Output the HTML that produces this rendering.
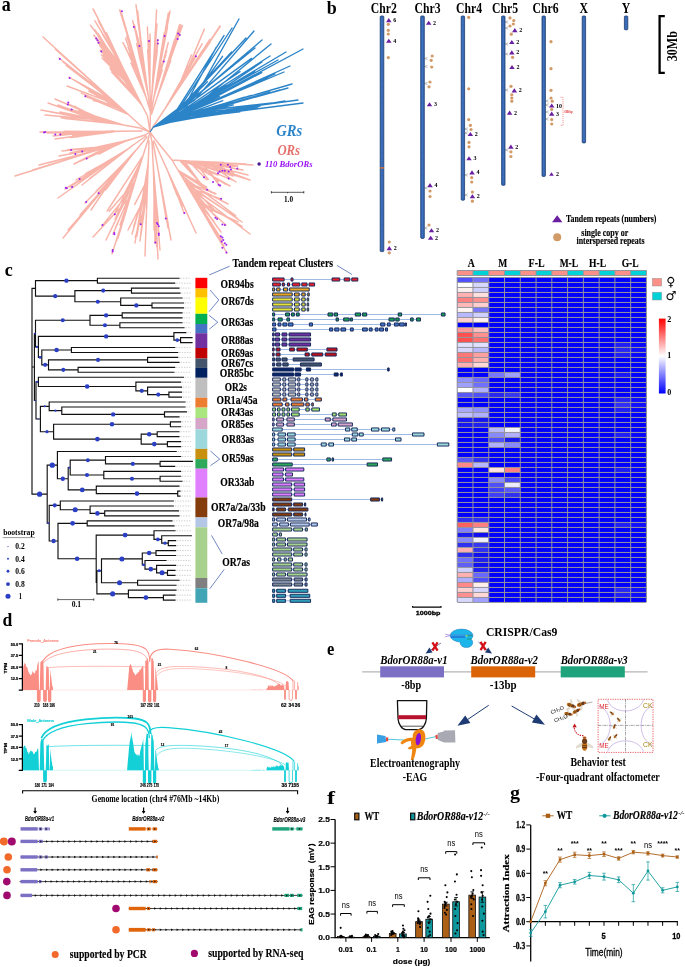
<!DOCTYPE html>
<html><head><meta charset="utf-8"><title>Figure</title>
<style>
html,body{margin:0;padding:0;background:#fff}
svg{display:block;will-change:transform}
text{font-family:'Liberation Serif','DejaVu Serif',serif;font-weight:700}
text.s{font-family:'Liberation Sans','DejaVu Sans',sans-serif}
text.n{font-weight:400}
</style></head><body>
<svg width="685" height="967" viewBox="0 0 685 967">
<rect width="685" height="967" fill="#fff"/>
<g id="panel_a">
<path d="M150 132L141 126M113.96 101.44L43 37M106.86 94.99L63.77 56.62M101.1 89.77L55.35 49.14M112.92 100.5L59 58M112.57 100.18L72.04 69.09M128.25 114.42L82.37 77.37M126.63 112.95L69 77M128.02 114.21L89.84 91.31M118.76 105.8L88.92 91.35M118.05 105.16L67 86M124.71 111.2L81.28 93.12M121.29 108.1L86.61 97.1M123.19 109.83L85 96M128.13 114.31L93 99.47M120.32 107.22L93.32 100.64M104.18 92.56L63 62M119.48 106.46L66.14 65.52M110.62 98.41L68.78 67.18M115.93 103.23L74 80M116.08 103.37L91.24 92.58M117.42 104.59L89.01 89.69M141 126L43 37M150 132L147.5 116M123.7 69.27L93.3 9.2M122.22 66.36L106.44 32.77M128.04 77.79L107.74 38.04M127.19 76.13L98.21 20.56M125.24 72.29L90.5 25.2M128.12 77.95L99.49 41.44M138.07 97.48L98.19 36.36M123.71 69.29L99.81 38.47M121.47 64.9L94.9 20.8M125.62 73.05L106.77 41.39M124.94 71.71L102.71 34.56M132.76 87.07L105.1 37.71M131.39 84.38L93.8 35M137.41 96.19L96.67 39.44M129.69 81.03L99.83 45.85M138.75 98.83L100.39 44.35M137.09 95.56L95 30M134.92 91.31L97.8 33.23M138.04 97.42L106.65 49.57M133.85 89.21L100.73 41.4M138.59 98.51L98 42M140.92 103.09L106.3 55.72M139.79 100.86L110.54 62.49M138.75 98.82L102.29 49.87M135.41 92.26L101.4 54.7M141.98 105.17L112.07 69.29M129.52 80.7L104.05 59.76M134.67 90.81L109.93 65.87M137.95 97.24L100.3 50M137.13 95.64L104.19 54.23M135.86 93.16L103.46 55.26M137.12 95.63L109.11 62.85M136.92 95.23L96.5 38M125.71 73.22L100.92 42.92M128.34 78.38L109.2 58.73M134.86 91.18L108.23 57.02M134.26 90.01L102 58M141.09 103.42L110.07 67.97M141.4 104.02L111.68 72.11M138.38 98.09L110.47 69.26M147.5 116L93 9M150 132L150.5 110M141.53 81.99L119.6 9.9M137.79 69.5L127.25 33.35M136.59 65.47L126.84 36.47M134.01 56.84L121.5 13M135.42 61.58L123.07 18.21M138.64 72.34L129.16 38.91M139.63 75.64L122.9 42.7M146.06 97.14L131.03 62.99M142.01 83.62L124.7 45.64M142.72 85.97L125.5 38.3M146.34 98.07L128.11 47.19M146.75 99.46L130.11 53.55M141.97 83.47L124 22M143.02 86.99L126.68 30.92M138.59 72.18L126.32 30.85M150.5 112L120 10M145.57 75.59L136 4.8M143.11 57.46L136.66 10.31M142.16 50.49L137.59 10.74M145.59 75.74L137 13M145.81 77.39L137.48 18.15M144.43 67.19L139.84 37.08M144.22 65.63L132.7 20.8M147.96 93.27L136.67 43.59M147.78 91.91L135.78 33.24M148.36 96.21L138.6 52.6M146.17 80.08L139.54 57.45M146.69 83.91L140.62 60.24M147.4 89.11L134.5 25M145.81 77.4L139.2 49.14M143.7 61.82L135.96 30.44M146.23 80.48L140 46M147.71 91.43L141.07 52.93M147.62 90.72L143.12 62.66M150.5 112L136 5M148.95 64.82L147.4 27.4M150.08 92.5L147.62 49.39M149.85 86.79L150 34M149.84 86.65L150.25 37.61M150.06 91.94L148.5 50M149.88 87.59L149.48 59.76M149.93 88.7L149 41M149.94 88.93L149.86 53.9M150.8 110L147.4 27M152.53 82.73L156.6 9.9M152.64 80.69L155.72 36.55M153.24 70L155.37 30.72M152.72 79.31L157.7 39.4M152.14 89.71L157.31 49.93M152.34 86.09L157.05 52.92M152.62 81.11L157.8 43.5M152.64 80.69L156.69 54.78M151.76 96.36L155.97 54.33M153.1 72.53L157 24M152.19 88.66L155.41 39.93M152.07 90.92L155.65 49.74M151 110L156.6 10M155.52 88.81L170 11.4M156.28 84.71L168.15 21.38M154.86 92.36L167.51 26.96M160.05 64.48L168.3 13M160.32 63.01L167.14 19.2M160.31 63.06L165.9 26.94M154.98 91.69L163.8 35M157.16 80L162 47.9M156.77 82.07L161.55 49.05M154.59 93.79L168.2 42.7M157.33 79.07L165.9 55.05M158.17 74.57L166.78 51.04M153.95 97.24L163.4 62M156.53 83.34L162.35 64.66M154.12 96.33L162.2 69.89M157.66 77.29L166 26M160.23 63.49L164.22 32.92M157.62 77.51L161.94 49.06M151.2 112L170 11M167.22 66.71L179.6 24.5M164.87 73.83L172.28 47.56M157.59 95.88L174.74 39.28M160.73 86.37L182.4 25.8M156.37 99.57L174.49 47.69M165.31 72.48L178.31 35.48M159.93 88.77L178 33.5M157.31 96.73L173.8 46.03M158.67 92.61L169.98 57.2M166.03 70.32L177.4 39.4M163.21 78.85L173.86 49.68M157.08 97.43L170.73 60.75M151.6 114L181 25M150 132L152.9 127M181.29 84.27L204.3 29.1M177.05 90.65L191.4 54.94M168.67 103.26L220.3 26.3M184.73 79.08L210.31 41.73M165.08 108.67L202.1 43.8M174.62 94.31L187.95 66.51M175.48 93.02L209.8 39.4M170.3 100.81L202.82 49.95M172.65 97.27L196 56.5M172.26 97.86L184.41 76.64M152.9 127L220 26M150 132L140 128M109.95 122.54L55 99M102.99 121.27L74.4 106.21M103.63 121.39L68.73 104.1M96.35 120.06L48 103M114.8 123.42L72.85 110.28M116.93 123.81L74.28 110.6M117.94 123.99L41 110M120.32 124.42L62.62 114.23M119.59 124.29L51.09 112.16M91.82 119.24L45 115M115.96 123.63L61.08 117.69M120.01 124.36L64.83 118.44M121.1 124.56L60 112M106.02 121.82L78.65 116.47M99.57 120.65L68.77 113.68M99.82 120.69L58 105M120.1 124.38L78.55 110.8M116.25 123.68L62.51 106.88M115.72 123.59L66 108M113.04 123.1L72.42 109.84M123.43 124.99L78.81 110.94M113.1 123.11L71.6 109.5M122.69 124.85L85.13 113.15M103.17 121.3L80.08 111.04M140 128L41 110M96.51 131.45L40 132M100.96 131.4L44.81 131.89M101.87 131.39L64.11 131.11M99.6 131.42L53 136M107.21 131.34L72.55 135.1M106.51 131.35L79.68 134.67M110.34 131.31L55 139M117.84 131.24L70.36 137.58M101.81 131.39L76.55 137.01M120.45 131.21L60 134M113.01 131.28L84.51 133.43M114.11 131.27L82.69 133.31M121.25 131.2L47 133M104.8 131.36L74.48 133.09M99.47 131.42L67.99 132.93M142 131L40 132M150 132L145 135M73.36 157.59L15 176M96.24 150.38L32.68 170.03M96.31 150.36L39 165M100.69 148.98L48.57 162.89M104.07 147.91L59 156M116.44 144.01L73.09 152.55M128.9 140.08L65 160M105.78 147.37L71.49 157.46M107.51 146.82L74 164M117.57 143.65L79.99 161.41M110.98 145.73L62 151M109.42 146.22L67.58 149.63M128.29 140.27L70 153M112.08 145.38L79.08 151.26M126.03 140.98L82 151.4M134.84 138.2L100.54 147.18M126.39 140.87L86.7 158.4M121.01 142.56L98.96 154.16M145 135L15 176M125.54 150.42L58 198M128.64 148.23L79.48 182.39M121.75 153.09L65 189M107.37 163.21L68.76 186.55M121.48 153.28L70 187M119.78 154.47L85.26 176.8M132.49 145.52L82 185M132.97 145.18L89.56 178.67M124.88 150.88L76 180M118 155.73L85.65 173.66M146 136L58 198M114.01 176.67L63 238M106.76 185.38L72.87 225.7M99.67 193.91L68 230M123.47 165.29L85.71 209.12M128.92 158.74L85 203M133.33 153.44L96.15 191.21M111.9 179.21L91 210M134.6 151.91L105.57 189.97M125.87 162.41L98 193M137.72 148.16L109.59 178.6M119.38 170.21L80 215M109.77 181.76L84.38 211.09M147 137L63 238M150 132L148 140M129.84 197.5L93 237M143.16 155.31L107.19 211.01M133.12 187.1L102 226M134.75 181.97L109.2 211.3M138.98 168.55L112 254M129.28 199.29L116.6 240.77M132.93 187.71L113 234M131.71 191.6L115.35 227.75M140.08 165.08L114 215M141.79 159.66L124.66 193.29M136.74 175.67L118 238M132.17 190.12L123.24 221.15M135.94 178.18L120 225M140.63 163.35L126.71 206.34M135.65 179.11L106 240M139.9 165.66L115.1 219.05M148 140L112 254M147.18 193.31L128 230M147.68 179.07L134.62 204.55M147.6 181.26L132 234M147.5 184.07L133.73 226.34M148.23 163.12L140 241M147.33 188.98L140.89 235.36M147.44 185.78L145 256M147.41 186.65L145.91 229.44M147.64 180.15L141 224M148.31 160.96L143.19 203.22M148.21 163.58L135 243M147.01 198.18L135.15 237.68M148.16 165.16L137 236M147.8 175.58L137.87 227.53M149 141L145 256M150 132L152 142M153.51 171.5L155 243M154.37 188.24L154.67 221.72M155.71 214.37L158 259M154.08 182.6L156.64 246.42M153.09 163.22L157 224M152.91 159.69L155.6 204.96M153.14 164.17L159 235M153.28 166.9L157.36 214.38M153.23 166.05L156 243M153.25 166.34L155.71 223.04M153.71 175.36L160 250M153.81 177.24L158.37 222.11M154.58 192.32L154 230M154.17 184.33L153.88 224.33M152 142L158 259M157.41 166L166 218M159.82 179.13L163.61 203.34M157.55 166.78L171 240M159.19 175.72L168.22 223.92M160.32 181.88L168 228M159.99 180.05L165.42 209.66M153 142L171 240M172.01 180.46L184 213M167.87 171.39L176.98 195.32M162.78 160.24L196 233M160.86 156.02L186.24 211.28M171.95 180.33L190 220M170.95 178.13L182.79 205.72M154 141L196 233M150 132L155 139L172 160M197.89 203.78L227 253M197.86 203.72L217.13 236.62M187.39 186.02L210.67 225M186.34 184.24L222 240M185.72 183.21L218.55 235.59M198.73 205.2L217.4 234.24M193.06 195.62L226 225M182.67 178.04L213.83 209.25M178.58 171.12L211.94 208.13M187.17 185.66L217 218M187.74 186.62L210.85 211.37M184.39 180.96L211.73 211.65M188.21 187.42L250 234M194.72 198.41L242.16 226.46M198.06 204.06L238.35 221.81M185.38 182.62L242 222M180.76 174.8L235.56 215.65M186.56 184.63L237.57 218.43M184.73 181.52L228 204M184.75 181.56L216.04 193.75M179.34 172.41L214.71 193.87M199.36 206.26L224 246M195.02 198.92L218.44 235.46M187.14 185.6L209.31 221.8M184.66 181.41L221 232M194.88 198.69L213.89 221.2M183.1 178.77L209 214.69M188.22 187.42L221 199M178.2 170.48L206.66 187.13M179.2 172.17L211.65 192.62M172 160L227 253M204.31 161.99L253 165M197.93 161.6L244.74 164.16M216.99 162.78L248.75 164.73M193.54 161.33L248 175M192.27 161.25L228.99 170.8M207.71 162.2L233.39 172.39M188.79 161.04L250 180M199.88 161.72L245.98 178.39M206.31 162.12L234.69 175.6M205.99 162.1L236 182M185.51 160.83L233.2 180.43M182.01 160.62L217.89 175.03M185.44 160.83L230 186M199.8 161.72L218.27 181.44M188.96 161.05L225.77 184.51M205.98 162.1L238 166M208.61 162.26L235.26 166.44M189.79 161.1L223.9 164.21M194.43 161.38L243 170M212.51 162.5L238.92 169.82M195.19 161.43L222.25 167.34M191.15 161.18L233 176M196.72 161.53L220.76 172.58M188.2 161L220.09 172.07M195.36 161.44L246 164M182.45 160.64L223.87 162.45M202.29 161.87L230.52 163.89M200.9 161.78L220 186M188.72 161.03L206.79 179.69M194.27 161.37L208.3 179.4M179.72 160.48L207 190M181.91 160.61L203.64 187.8M184.09 160.75L200.9 183.83M172 160L253 165" fill="none" stroke="#F8B4A9" stroke-width="1.45" stroke-linecap="round"/>
<path d="M153.5 127L196.65 94.56L239 19M153.5 127L176.68 110.17L224.11 35.45M153.5 127L179.7 107.76L232 28M153.5 127L185.42 104.8L216.35 47.16M153.5 127L194.61 100.15L254 31M153.5 127L173.81 114.34L231.58 52M153.5 127L176.7 112.03L246 38M153.5 127L186.88 105.99L222.55 56.32M153.5 127L173.94 114.85L262 40M153.5 127L171.69 117.09L207.41 81.84M153.5 127L203.85 98.93L271 44M153.5 127L167.07 119.64L251.51 58.42M153.5 127L167.73 118.77L255 48M153.5 127L170.26 117.88L223.22 73.4M153.5 127L184.98 111.98L303 49M153.5 127L196.9 106.98L261.75 72.55M153.5 127L193.53 107.13L286 52M153.5 127L181.55 113.61L227.41 85.08M153.5 127L179.59 113.64L270 56M153.5 127L172.03 117.54L240.04 71.64M153.5 127L171.44 118.37L278 60M153.5 127L178.87 114.86L254.75 71.72M153.5 127L202.52 102.28L262 62M153.5 127L184.1 112.21L225.4 84.81M153.5 127L208.09 103.12L290 66M153.5 127L190.39 111.29L226.49 96.23M153.5 127L203.68 105.68L284 72M153.5 127L168.54 120.39L219.36 96.44M153.5 127L204.35 105.04L275 74M153.5 127L193.98 109.61L241.63 88.92M153.5 127L182.38 114.64L268 78M153.5 127L166.1 121.82L222.83 100.72M153.5 127L191.49 113L292 84M153.5 127L169.15 120.99L251.11 95.38M153.5 127L174.29 119.54L288 88M153.5 127L170.05 120.85L233.35 104.93M153.5 127L165.74 122.57L280 90M153.5 127L173.63 119.24L232.31 102.37M153.5 127L172.87 119.85L270 92M153.5 127L167.28 121.66L244.47 97.14M153.5 127L184.02 118.23L303 103M153.5 127L170.44 121.56L257.87 107.93M153.5 127L196.69 113.9L298 100M153.5 127L197.73 112.11L245.17 108.47M153.5 127L178.6 119.11L285 101M153.5 127L194.43 113.16L244.47 108.34M153.5 127L204.7 110.48L272 103M153.5 127L169.5 121.49L226.02 113.31M153.5 127L164.59 123.38L260 106M153.5 127L177.63 119.05L239.9 111.8M153.5 127L196.11 112.87L250 108M153.5 127L179.45 117.34L215.29 111.52M153.5 127L185.82 116.09L240 110M153.5 127L174.53 119.66L221.83 113.82" fill="none" stroke="#2C84C8" stroke-width="1.35" stroke-linecap="round" stroke-linejoin="round"/>
<path d="M150 132L153.5 127" fill="none" stroke="#2C84C8" stroke-width="1.2"/>
<circle cx="121.9" cy="11.3" r="1" fill="#A020F0" />
<circle cx="96.2" cy="38.4" r="1" fill="#A020F0" />
<circle cx="97.5" cy="40.2" r="1" fill="#A020F0" />
<circle cx="98.5" cy="42.7" r="1" fill="#A020F0" />
<circle cx="101.3" cy="51.5" r="1" fill="#A020F0" />
<circle cx="59.8" cy="59" r="1" fill="#A020F0" />
<circle cx="69.6" cy="77.9" r="1" fill="#A020F0" />
<circle cx="85.4" cy="96.2" r="1" fill="#A020F0" />
<circle cx="68.3" cy="102.5" r="1" fill="#A020F0" />
<circle cx="67.8" cy="104.5" r="1" fill="#A020F0" />
<circle cx="71.6" cy="109.5" r="1" fill="#A020F0" />
<circle cx="133.9" cy="27.1" r="1" fill="#A020F0" />
<circle cx="139.4" cy="46" r="1" fill="#A020F0" />
<circle cx="149" cy="41" r="1" fill="#A020F0" />
<circle cx="157.8" cy="40.2" r="1" fill="#A020F0" />
<circle cx="157.8" cy="43.5" r="1" fill="#A020F0" />
<circle cx="164.6" cy="35.9" r="1" fill="#A020F0" />
<circle cx="163.8" cy="61.6" r="1" fill="#A020F0" />
<circle cx="44" cy="132.4" r="1" fill="#A020F0" />
<circle cx="45.2" cy="131.9" r="1" fill="#A020F0" />
<circle cx="55.3" cy="134.4" r="1" fill="#A020F0" />
<circle cx="60.3" cy="134.4" r="1" fill="#A020F0" />
<circle cx="178.2" cy="33.6" r="1" fill="#A020F0" />
<circle cx="179.8" cy="35.1" r="1" fill="#A020F0" />
<circle cx="177.6" cy="38.9" r="1" fill="#A020F0" />
<circle cx="195.9" cy="56.3" r="1" fill="#A020F0" />
<circle cx="71.1" cy="150.1" r="1" fill="#A020F0" />
<circle cx="75.4" cy="153.9" r="1" fill="#A020F0" />
<circle cx="82.2" cy="151.4" r="1" fill="#A020F0" />
<circle cx="86.7" cy="158.4" r="1" fill="#A020F0" />
<circle cx="79.6" cy="179" r="1" fill="#A020F0" />
<circle cx="65.8" cy="187.8" r="1" fill="#A020F0" />
<circle cx="66.8" cy="188.3" r="1" fill="#A020F0" />
<circle cx="72.1" cy="187.1" r="1" fill="#A020F0" />
<circle cx="98.7" cy="193.3" r="1" fill="#A020F0" />
<circle cx="86.2" cy="202.1" r="1" fill="#A020F0" />
<circle cx="114.8" cy="214.2" r="1" fill="#A020F0" />
<circle cx="102.5" cy="225" r="1" fill="#A020F0" />
<circle cx="114.3" cy="233" r="1" fill="#A020F0" />
<circle cx="114.3" cy="234.3" r="1" fill="#A020F0" />
<circle cx="112.6" cy="249.9" r="1" fill="#A020F0" />
<circle cx="112.6" cy="251.4" r="1" fill="#A020F0" />
<circle cx="140.7" cy="224.2" r="1" fill="#A020F0" />
<circle cx="157" cy="223" r="1" fill="#A020F0" />
<circle cx="157.8" cy="224.2" r="1" fill="#A020F0" />
<circle cx="158.8" cy="226.3" r="1" fill="#A020F0" />
<circle cx="158.8" cy="233.5" r="1" fill="#A020F0" />
<circle cx="158.8" cy="235" r="1" fill="#A020F0" />
<circle cx="155.3" cy="242.6" r="1" fill="#A020F0" />
<circle cx="165.8" cy="218.5" r="1" fill="#A020F0" />
<circle cx="184.4" cy="213" r="1" fill="#A020F0" />
<circle cx="220.8" cy="164.8" r="1" fill="#A020F0" />
<circle cx="227.9" cy="164.8" r="1" fill="#A020F0" />
<circle cx="230.1" cy="167" r="1" fill="#A020F0" />
<circle cx="218" cy="173.2" r="1" fill="#A020F0" />
<circle cx="219.6" cy="171.6" r="1" fill="#A020F0" />
<circle cx="222.4" cy="170.7" r="1" fill="#A020F0" />
<circle cx="224.8" cy="170.7" r="1" fill="#A020F0" />
<circle cx="228.6" cy="171.6" r="1" fill="#A020F0" />
<circle cx="231" cy="169.5" r="1" fill="#A020F0" />
<circle cx="237.3" cy="168.5" r="1" fill="#A020F0" />
<circle cx="204" cy="177.2" r="1" fill="#A020F0" />
<circle cx="213" cy="181.9" r="1" fill="#A020F0" />
<circle cx="218.6" cy="184.7" r="1" fill="#A020F0" />
<circle cx="220.2" cy="185.6" r="1" fill="#A020F0" />
<circle cx="228.6" cy="178.5" r="1" fill="#A020F0" />
<circle cx="207.1" cy="189.7" r="1" fill="#A020F0" />
<circle cx="221.1" cy="198.7" r="1" fill="#A020F0" />
<circle cx="215.5" cy="217.7" r="1" fill="#A020F0" />
<circle cx="217.1" cy="218.9" r="1" fill="#A020F0" />
<circle cx="222.4" cy="224.5" r="1" fill="#A020F0" />
<circle cx="224.8" cy="225.1" r="1" fill="#A020F0" />
<circle cx="220.8" cy="236.3" r="1" fill="#A020F0" />
<circle cx="222.4" cy="237.6" r="1" fill="#A020F0" />
<circle cx="223.3" cy="240" r="1" fill="#A020F0" />
<circle cx="221.7" cy="241.6" r="1" fill="#A020F0" />
<circle cx="224.8" cy="243.2" r="1" fill="#A020F0" />
<circle cx="226.4" cy="244.7" r="1" fill="#A020F0" />
<circle cx="222.4" cy="247.8" r="1" fill="#A020F0" />
<circle cx="226.4" cy="252.5" r="1" fill="#A020F0" />
<text x="1.7" y="10.9" font-size="21.5" textLength="9" lengthAdjust="spacingAndGlyphs">a</text>
<text x="276.3" y="136.4" font-size="16.8" font-style="italic" fill="#2C84C8" textLength="26" lengthAdjust="spacingAndGlyphs">GRs</text>
<text x="277.4" y="155.3" font-size="14.2" font-style="italic" fill="#E4706C" textLength="22.6" lengthAdjust="spacingAndGlyphs">ORs</text>
<circle cx="259.1" cy="164.1" r="1.75" fill="#4A1A90" />
<text x="264.9" y="166.7" font-size="8.8" font-style="italic" fill="#9A10F8" textLength="47.6" lengthAdjust="spacingAndGlyphs">110 BdorORs</text>
<path d="M271.4 191.1V193.5M271.4 192.3H303.8M303.8 191.1V193.5M287.6 192.3V193.3" stroke="#000" stroke-width="0.65" fill="none"/>
<text x="288.5" y="202" font-size="8.8" text-anchor="middle" textLength="9" lengthAdjust="spacingAndGlyphs">1.0</text>
</g>
<g id="panel_b">
<rect x="380.2" y="16" width="3.6" height="235.6" rx="0.9" fill="#3468B4" stroke="#1F3C70" stroke-width="0.8"/>
<line x1="382" y1="18" x2="382" y2="249.6" stroke="#6C9BE0" stroke-width="0.9" stroke-dasharray="0.5 1.3" opacity="0.8"/>
<text x="383.8" y="12.8" font-size="15" text-anchor="middle" textLength="26" lengthAdjust="spacingAndGlyphs">Chr2</text>
<rect x="420.7" y="16" width="3.6" height="222.4" rx="0.9" fill="#3468B4" stroke="#1F3C70" stroke-width="0.8"/>
<line x1="422.5" y1="18" x2="422.5" y2="236.4" stroke="#6C9BE0" stroke-width="0.9" stroke-dasharray="0.5 1.3" opacity="0.8"/>
<text x="427.5" y="12.8" font-size="15" text-anchor="middle" textLength="26" lengthAdjust="spacingAndGlyphs">Chr3</text>
<rect x="461.2" y="16" width="3.4" height="184.2" rx="0.9" fill="#3468B4" stroke="#1F3C70" stroke-width="0.8"/>
<line x1="462.9" y1="18" x2="462.9" y2="198.2" stroke="#6C9BE0" stroke-width="0.9" stroke-dasharray="0.5 1.3" opacity="0.8"/>
<text x="469" y="12.8" font-size="15" text-anchor="middle" textLength="26" lengthAdjust="spacingAndGlyphs">Chr4</text>
<rect x="501.6" y="16" width="3.4" height="169.3" rx="0.9" fill="#3468B4" stroke="#1F3C70" stroke-width="0.8"/>
<line x1="503.3" y1="18" x2="503.3" y2="183.3" stroke="#6C9BE0" stroke-width="0.9" stroke-dasharray="0.5 1.3" opacity="0.8"/>
<text x="505" y="12.8" font-size="15" text-anchor="middle" textLength="26" lengthAdjust="spacingAndGlyphs">Chr5</text>
<rect x="542" y="16" width="3.4" height="160.4" rx="0.9" fill="#3468B4" stroke="#1F3C70" stroke-width="0.8"/>
<line x1="543.7" y1="18" x2="543.7" y2="174.4" stroke="#6C9BE0" stroke-width="0.9" stroke-dasharray="0.5 1.3" opacity="0.8"/>
<text x="545.5" y="12.8" font-size="15" text-anchor="middle" textLength="26" lengthAdjust="spacingAndGlyphs">Chr6</text>
<rect x="582.2" y="16" width="3.4" height="126.9" rx="0.9" fill="#3468B4" stroke="#1F3C70" stroke-width="0.8"/>
<line x1="583.9" y1="18" x2="583.9" y2="140.9" stroke="#6C9BE0" stroke-width="0.9" stroke-dasharray="0.5 1.3" opacity="0.8"/>
<text x="583.7" y="12.8" font-size="15" text-anchor="middle" textLength="8.5" lengthAdjust="spacingAndGlyphs">X</text>
<rect x="624.4" y="16" width="3.4" height="13.8" rx="0.9" fill="#3468B4" stroke="#1F3C70" stroke-width="0.8"/>
<line x1="626.1" y1="18" x2="626.1" y2="27.8" stroke="#6C9BE0" stroke-width="0.9" stroke-dasharray="0.5 1.3" opacity="0.8"/>
<text x="626" y="12.8" font-size="15" text-anchor="middle" textLength="8.5" lengthAdjust="spacingAndGlyphs">Y</text>
<rect x="380" y="167.3" width="4" height="1.2" fill="#E8702A"/>
<path d="M386.04 22.14L391.56 22.14L388.8 18Z" fill="#6A1FA0"/>
<text x="393.2" y="22.1" font-size="6.6" textLength="3" lengthAdjust="spacingAndGlyphs">6</text>
<circle cx="388.3" cy="24.3" r="1.6" fill="#D19A66" />
<circle cx="388.3" cy="30.3" r="1.6" fill="#D19A66" />
<circle cx="388.3" cy="34" r="1.6" fill="#D19A66" />
<path d="M386.04 42.84L391.56 42.84L388.8 38.7Z" fill="#6A1FA0"/>
<text x="393.2" y="42.8" font-size="6.6" textLength="3" lengthAdjust="spacingAndGlyphs">4</text>
<circle cx="388.3" cy="57.6" r="1.6" fill="#D19A66" />
<circle cx="389.3" cy="242" r="1.6" fill="#D19A66" />
<path d="M386.54 250.14L392.06 250.14L389.3 246Z" fill="#6A1FA0"/>
<text x="393.7" y="250.1" font-size="6.6" textLength="3" lengthAdjust="spacingAndGlyphs">2</text>
<circle cx="389.3" cy="252.8" r="1.6" fill="#D19A66" />
<path d="M425.94 24.84L431.46 24.84L428.7 20.7Z" fill="#6A1FA0"/>
<text x="433.1" y="24.8" font-size="6.6" textLength="3" lengthAdjust="spacingAndGlyphs">2</text>
<circle cx="432.2" cy="56" r="1.6" fill="#D19A66" />
<circle cx="431.2" cy="60.3" r="1.6" fill="#D19A66" />
<circle cx="431.7" cy="67" r="1.6" fill="#D19A66" />
<circle cx="430" cy="82" r="1.6" fill="#D19A66" />
<circle cx="429" cy="86.8" r="1.6" fill="#D19A66" />
<path d="M426.74 106.34L432.26 106.34L429.5 102.2Z" fill="#6A1FA0"/>
<text x="433.9" y="106.3" font-size="6.6" textLength="3" lengthAdjust="spacingAndGlyphs">3</text>
<path d="M427.24 187.14L432.76 187.14L430 183Z" fill="#6A1FA0"/>
<text x="434.4" y="187.1" font-size="6.6" textLength="3" lengthAdjust="spacingAndGlyphs">4</text>
<circle cx="430" cy="191" r="1.6" fill="#D19A66" />
<circle cx="430" cy="196.5" r="1.6" fill="#D19A66" />
<circle cx="429" cy="225" r="1.6" fill="#D19A66" />
<path d="M428.74 232.34L434.26 232.34L431.5 228.2Z" fill="#6A1FA0"/>
<text x="435.9" y="232.3" font-size="6.6" textLength="3" lengthAdjust="spacingAndGlyphs">2</text>
<path d="M427.94 239.84L433.46 239.84L430.7 235.7Z" fill="#6A1FA0"/>
<text x="435.1" y="239.8" font-size="6.6" textLength="3" lengthAdjust="spacingAndGlyphs">2</text>
<circle cx="468.7" cy="17.4" r="1.6" fill="#D19A66" />
<circle cx="468.7" cy="88.8" r="1.6" fill="#D19A66" />
<circle cx="468.7" cy="119.6" r="1.6" fill="#D19A66" />
<circle cx="470.4" cy="125.3" r="1.6" fill="#D19A66" />
<circle cx="471" cy="129.5" r="1.6" fill="#D19A66" />
<path d="M467.64 136.04L473.16 136.04L470.4 131.9Z" fill="#6A1FA0"/>
<text x="474.8" y="136" font-size="6.6" textLength="3" lengthAdjust="spacingAndGlyphs">2</text>
<circle cx="469" cy="142.4" r="1.6" fill="#D19A66" />
<circle cx="469" cy="146.8" r="1.6" fill="#D19A66" />
<path d="M466.24 160.34L471.76 160.34L469 156.2Z" fill="#6A1FA0"/>
<text x="473.4" y="160.3" font-size="6.6" textLength="3" lengthAdjust="spacingAndGlyphs">3</text>
<path d="M469.24 174.44L474.76 174.44L472 170.3Z" fill="#6A1FA0"/>
<text x="476.4" y="174.4" font-size="6.6" textLength="3" lengthAdjust="spacingAndGlyphs">4</text>
<circle cx="471.7" cy="177.6" r="1.6" fill="#D19A66" />
<circle cx="471.7" cy="182" r="1.6" fill="#D19A66" />
<circle cx="472.4" cy="192" r="1.6" fill="#D19A66" />
<path d="M469.64 198.34L475.16 198.34L472.4 194.2Z" fill="#6A1FA0"/>
<text x="476.8" y="198.3" font-size="6.6" textLength="3" lengthAdjust="spacingAndGlyphs">2</text>
<circle cx="472.4" cy="201.2" r="1.6" fill="#D19A66" />
<circle cx="510" cy="17.9" r="1.6" fill="#D19A66" />
<circle cx="513.8" cy="20.6" r="1.6" fill="#D19A66" />
<circle cx="513.3" cy="24" r="1.6" fill="#D19A66" />
<circle cx="510" cy="26" r="1.6" fill="#D19A66" />
<path d="M512.04 32.14L517.56 32.14L514.8 28Z" fill="#6A1FA0"/>
<text x="519.2" y="32.1" font-size="6.6" textLength="3" lengthAdjust="spacingAndGlyphs">2</text>
<circle cx="511.3" cy="34.2" r="1.6" fill="#D19A66" />
<path d="M509.04 44.04L514.56 44.04L511.8 39.9Z" fill="#6A1FA0"/>
<text x="516.2" y="44" font-size="6.6" textLength="3" lengthAdjust="spacingAndGlyphs">2</text>
<path d="M509.04 54.44L514.56 54.44L511.8 50.3Z" fill="#6A1FA0"/>
<text x="516.2" y="54.4" font-size="6.6" textLength="3" lengthAdjust="spacingAndGlyphs">2</text>
<circle cx="512.6" cy="57.3" r="1.6" fill="#D19A66" />
<path d="M509.24 69.04L514.76 69.04L512 64.9Z" fill="#6A1FA0"/>
<text x="516.4" y="69" font-size="6.6" textLength="3" lengthAdjust="spacingAndGlyphs">2</text>
<circle cx="511" cy="86.3" r="1.6" fill="#D19A66" />
<path d="M511.54 92.44L517.06 92.44L514.3 88.3Z" fill="#6A1FA0"/>
<text x="518.7" y="92.4" font-size="6.6" textLength="3" lengthAdjust="spacingAndGlyphs">2</text>
<circle cx="511.8" cy="94.8" r="1.6" fill="#D19A66" />
<circle cx="511.8" cy="98" r="1.6" fill="#D19A66" />
<circle cx="511.8" cy="101.2" r="1.6" fill="#D19A66" />
<path d="M506.84 114.74L512.36 114.74L509.6 110.6Z" fill="#6A1FA0"/>
<text x="514" y="114.7" font-size="6.6" textLength="3" lengthAdjust="spacingAndGlyphs">2</text>
<path d="M508.14 148.64L513.66 148.64L510.9 144.5Z" fill="#6A1FA0"/>
<text x="515.3" y="148.6" font-size="6.6" textLength="3" lengthAdjust="spacingAndGlyphs">2</text>
<circle cx="510.9" cy="151.8" r="1.6" fill="#D19A66" />
<circle cx="510.9" cy="156.5" r="1.6" fill="#D19A66" />
<circle cx="551" cy="41.7" r="1.6" fill="#D19A66" />
<circle cx="551" cy="68.7" r="1.6" fill="#D19A66" />
<circle cx="551" cy="90.3" r="1.6" fill="#D19A66" />
<circle cx="551" cy="98" r="1.6" fill="#D19A66" />
<circle cx="552.2" cy="101.2" r="1.6" fill="#D19A66" />
<path d="M548.94 107.54L554.46 107.54L551.7 103.4Z" fill="#6A1FA0"/>
<text x="556.1" y="107.5" font-size="6.6" textLength="6" lengthAdjust="spacingAndGlyphs">10</text>
<circle cx="551.7" cy="109.4" r="1.6" fill="#D19A66" />
<path d="M548.94 115.74L554.46 115.74L551.7 111.6Z" fill="#6A1FA0"/>
<text x="556.1" y="115.7" font-size="6.6" textLength="3" lengthAdjust="spacingAndGlyphs">3</text>
<circle cx="551.7" cy="119.6" r="1.6" fill="#D19A66" />
<circle cx="551.7" cy="124" r="1.6" fill="#D19A66" />
<path d="M549.15 175.66L553.85 175.66L551.5 172.14Z" fill="#6A1FA0"/>
<text x="555.9" y="175.9" font-size="6.6" textLength="3" lengthAdjust="spacingAndGlyphs">2</text>
<path d="M424.5 58.5l3 -1.2M424.5 58.5l3 1.2M424.5 66.5l3 -1.2M424.5 66.5l3 1.2M424.5 83.5l3 -1.2M424.5 83.5l3 1.2M424.5 188l3 -1.2M424.5 188l3 1.2M424.5 228l3 -1.2M424.5 228l3 1.2M464.8 129l3 -1.2M464.8 129l3 1.2M464.8 133l3 -1.2M464.8 133l3 1.2M464.8 175l3 -1.2M464.8 175l3 1.2M464.8 195l3 -1.2M464.8 195l3 1.2M505.2 22l3 -1.2M505.2 22l3 1.2M505.2 28l3 -1.2M505.2 28l3 1.2M505.2 44l3 -1.2M505.2 44l3 1.2M505.2 54l3 -1.2M505.2 54l3 1.2M505.2 90l3 -1.2M505.2 90l3 1.2M505.2 150l3 -1.2M505.2 150l3 1.2M545.6 101l3 -1.2M545.6 101l3 1.2M545.6 105l3 -1.2M545.6 105l3 1.2M545.6 112l3 -1.2M545.6 112l3 1.2M545.6 119l3 -1.2M545.6 119l3 1.2" stroke="#444" stroke-width="0.35" fill="none"/>
<path d="M560.5 97.3H563V125.3H560.5" fill="none" stroke="#E03030" stroke-width="0.5" stroke-dasharray="1.2 0.9"/>
<text x="564.5" y="112.6" font-size="3" fill="#E03030" textLength="8" lengthAdjust="spacingAndGlyphs">68Kbp</text>
<path d="M664.8 16.2H659.6V72.9H664.8" fill="none" stroke="#000" stroke-width="2.3"/>
<text x="676.6" y="46.2" font-size="15.2" text-anchor="middle" textLength="30.3" lengthAdjust="spacingAndGlyphs" transform="rotate(-90 676.6 46.2)">30Mb</text>
<path d="M552 222.3L562.4 222.3L557.2 215.2Z" fill="#6A1FA0"/>
<text x="566" y="222" font-size="10" textLength="90.5" lengthAdjust="spacingAndGlyphs" stroke="#000" stroke-width="0.15">Tandem repeats (numbers)</text>
<circle cx="557.2" cy="237.2" r="4" fill="#D19A66" />
<text x="604.8" y="236" font-size="10" text-anchor="middle" textLength="47" lengthAdjust="spacingAndGlyphs" stroke="#000" stroke-width="0.15">single copy or</text>
<text x="610.5" y="244.4" font-size="10" text-anchor="middle" textLength="68" lengthAdjust="spacingAndGlyphs" stroke="#000" stroke-width="0.15">interspersed repeats</text>
<text x="326.8" y="14" font-size="18.5" textLength="10" lengthAdjust="spacingAndGlyphs">b</text>
</g>
<g id="panel_c">
<path d="M97.4 278.2H179M97.4 283.15H174.7M97.4 278.2V283.15M35.5 280.68H97.4M131.5 288.1H179M131.5 293.06H180M131.5 288.1V293.06M74.9 290.58H131.5M120.7 298.01H182M152 302.96H183.5M152 307.91H183.5M152 302.96V307.91M120.7 305.44H152M120.7 298.01V305.44M74.9 301.72H120.7M74.9 290.58V301.72M35.5 296.15H74.9M35.5 280.68V296.15M32 288.41H35.5M122.2 312.86H182M122.2 317.82H182M122.2 312.86V317.82M90 315.34H122.2M119.9 322.77H182M119.9 327.72H184M119.9 322.77V327.72M90 325.24H119.9M90 315.34V325.24M35.5 320.29H90M173.9 332.67H185.8M180.6 337.62H192M180.6 342.58H192M180.6 337.62V342.58M173.9 340.1H180.6M173.9 332.67V340.1M38.4 336.39H173.9M71.4 347.53H174.7M71.4 352.48H177.7M71.4 347.53V352.48M41.8 350H71.4M147.6 357.43H177.7M147.6 362.38H179M147.6 357.43V362.38M48.5 359.91H147.6M78.1 367.34H174.7M78.1 372.29H173.9M78.1 367.34V372.29M48.5 369.81H78.1M48.5 359.91V369.81M41.8 364.86H48.5M41.8 350V364.86M38.4 357.43H41.8M38.4 336.39V357.43M35.5 346.91H38.4M35.5 320.29V346.91M34.4 333.6H35.5M38.4 377.24H183.5M135.9 382.19H180.6M147.6 387.14H181.5M168.9 392.1H181.5M168.9 397.05H181.5M168.9 392.1V397.05M147.6 394.57H168.9M147.6 387.14V394.57M135.9 390.86H147.6M135.9 382.19V390.86M38.4 386.52H135.9M38.4 377.24V386.52M36 381.88H38.4M49.2 402H185M61.8 406.95H185M164.5 411.9H186.4M164.5 416.86H179M164.5 411.9V416.86M61.8 414.38H164.5M61.8 406.95V414.38M49.2 410.67H61.8M49.2 402V410.67M40.4 406.33H49.2M170.4 421.81H180.6M170.4 426.76H180.6M170.4 421.81V426.76M53.6 424.28H170.4M157.2 431.71H179M157.2 436.66H179M157.2 431.71V436.66M141.2 434.19H157.2M167.4 441.62H180.6M167.4 446.57H180.6M167.4 441.62V446.57M141.2 444.09H167.4M141.2 434.19V444.09M53.6 439.14H141.2M53.6 424.28V439.14M40.4 431.71H53.6M40.4 406.33V431.71M36 419.02H40.4M36 381.88V419.02M34.4 400.45H36M34.4 333.6V400.45M32 367.03H34.4M57.4 451.52H176.2M105.5 456.47H180.6M160.1 461.42H192.3M160.1 466.38H174.7M160.1 461.42V466.38M105.5 463.9H160.1M105.5 456.47V463.9M70.2 460.19H105.5M103.8 471.33H180.6M160.1 476.28H180.6M160.1 481.23H182M160.1 476.28V481.23M103.8 478.76H160.1M103.8 471.33V478.76M70.2 475.04H103.8M70.2 460.19V475.04M68.2 467.61H70.2M96.3 486.18H179M177.7 491.14H180M177.7 496.09H180M177.7 491.14V496.09M96.3 493.61H177.7M96.3 486.18V493.61M68.2 489.9H96.3M68.2 467.61V489.9M57.4 478.76H68.2M57.4 451.52V478.76M47.2 465.14H57.4M60.3 501.04H173.3M90.1 505.99H173.3M104.7 510.94H178.5M104.7 515.9H179M104.7 510.94V515.9M90.1 513.42H104.7M90.1 505.99V513.42M60.3 509.71H90.1M60.3 501.04V509.71M49.2 505.37H60.3M87.2 520.85H172M87.2 525.8H174M87.2 520.85V525.8M58 523.32H87.2M154 530.75H175M161.7 535.7H191.4M168.3 540.66H175.6M168.3 545.61H175.6M168.3 540.66V545.61M161.7 543.13H168.3M161.7 535.7V543.13M154 539.42H161.7M154 530.75V539.42M96.2 535.08H154M156 550.56H175.6M156 555.51H175.6M156 550.56V555.51M142.3 553.04H156M145 560.46H166M156.6 565.42H175.6M167.5 570.37H175M167.5 575.32H175M167.5 570.37V575.32M156.6 572.84H167.5M156.6 565.42V572.84M145 569.13H156.6M145 560.46V569.13M142.3 564.8H145M142.3 553.04V564.8M101.5 558.92H142.3M137.6 580.27H179M137.6 585.22H176M137.6 580.27V585.22M101.5 582.75H137.6M101.5 558.92V582.75M96.9 570.83H101.5M128.4 590.18H176M163.4 595.13H175M163.4 600.08H175M163.4 595.13V600.08M128.4 597.6H163.4M128.4 590.18V597.6M96.9 593.89H128.4M96.9 570.83V593.89M96.2 582.36H96.9M96.2 535.08V582.36M58 558.72H96.2M58 523.32V558.72M49.2 541.02H58M49.2 505.37V541.02M47.2 523.2H49.2M47.2 465.14V523.2M32 494.17H47.2M32 288.41V494.17" fill="none" stroke="#111" stroke-width="1.15" stroke-linecap="square"/>
<path d="M180.5 278.2H191M176.2 283.15H191M180.5 288.1H191M181.5 293.06H191M183.5 298.01H191M185 302.96H191M185 307.91H191M183.5 312.86H191M183.5 317.82H191M183.5 322.77H191M185.5 327.72H191M187.3 332.67H191M176.2 347.53H191M179.2 352.48H191M179.2 357.43H191M180.5 362.38H191M176.2 367.34H191M175.4 372.29H191M185 377.24H191M182.1 382.19H191M183 387.14H191M183 392.1H191M183 397.05H191M186.5 402H191M186.5 406.95H191M187.9 411.9H191M180.5 416.86H191M182.1 421.81H191M182.1 426.76H191M180.5 431.71H191M180.5 436.66H191M182.1 441.62H191M182.1 446.57H191M177.7 451.52H191M182.1 456.47H191M176.2 466.38H191M182.1 471.33H191M182.1 476.28H191M183.5 481.23H191M180.5 486.18H191M181.5 491.14H191M181.5 496.09H191M174.8 501.04H191M174.8 505.99H191M180 510.94H191M180.5 515.9H191M173.5 520.85H191M175.5 525.8H191M176.5 530.75H191M177.1 540.66H191M177.1 545.61H191M177.1 550.56H191M177.1 555.51H191M167.5 560.46H191M177.1 565.42H191M176.5 570.37H191M176.5 575.32H191M180.5 580.27H191M177.5 585.22H191M177.5 590.18H191M176.5 595.13H191M176.5 600.08H191" fill="none" stroke="#AAA" stroke-width="0.6" stroke-dasharray="1.3 1.3"/>
<circle cx="66.45" cy="280.68" r="2.18" fill="#2B3FC4" />
<circle cx="103.2" cy="290.58" r="2.07" fill="#2B3FC4" />
<circle cx="136.35" cy="305.44" r="2.18" fill="#2B3FC4" />
<circle cx="97.8" cy="301.72" r="2.07" fill="#2B3FC4" />
<circle cx="55.2" cy="296.15" r="2.07" fill="#2B3FC4" />
<circle cx="106.1" cy="315.34" r="2.18" fill="#2B3FC4" />
<circle cx="104.95" cy="325.24" r="2.07" fill="#2B3FC4" />
<circle cx="62.75" cy="320.29" r="2.07" fill="#2B3FC4" />
<circle cx="177.25" cy="340.1" r="1.84" fill="#2B3FC4" />
<circle cx="106.15" cy="336.39" r="2.18" fill="#2B3FC4" />
<circle cx="56.6" cy="350" r="2.3" fill="#2B3FC4" />
<circle cx="98.05" cy="359.91" r="2.07" fill="#2B3FC4" />
<circle cx="63.3" cy="369.81" r="2.07" fill="#2B3FC4" />
<circle cx="45.15" cy="364.86" r="2.07" fill="#2B3FC4" />
<circle cx="40.1" cy="357.43" r="1.38" fill="#2B3FC4" />
<circle cx="36.95" cy="346.91" r="1.15" fill="#2B3FC4" />
<circle cx="34.95" cy="333.6" r="0.92" fill="#2B3FC4" />
<circle cx="158.25" cy="394.57" r="2.07" fill="#2B3FC4" />
<circle cx="141.75" cy="390.86" r="2.07" fill="#2B3FC4" />
<circle cx="87.15" cy="386.52" r="2.3" fill="#2B3FC4" />
<circle cx="37.2" cy="381.88" r="1.03" fill="#2B3FC4" />
<circle cx="113.15" cy="414.38" r="2.18" fill="#2B3FC4" />
<circle cx="55.5" cy="410.67" r="1.15" fill="#2B3FC4" />
<circle cx="44.8" cy="406.33" r="1.03" fill="#2B3FC4" />
<circle cx="112" cy="424.28" r="2.3" fill="#2B3FC4" />
<circle cx="149.2" cy="434.19" r="2.3" fill="#2B3FC4" />
<circle cx="154.3" cy="444.09" r="2.3" fill="#2B3FC4" />
<circle cx="97.4" cy="439.14" r="2.3" fill="#2B3FC4" />
<circle cx="47" cy="431.71" r="1.61" fill="#2B3FC4" />
<circle cx="38.2" cy="419.02" r="0.69" fill="#2B3FC4" />
<circle cx="35.2" cy="400.45" r="0.69" fill="#2B3FC4" />
<circle cx="132.8" cy="463.9" r="2.07" fill="#2B3FC4" />
<circle cx="87.85" cy="460.19" r="1.95" fill="#2B3FC4" />
<circle cx="131.95" cy="478.76" r="2.07" fill="#2B3FC4" />
<circle cx="87" cy="475.04" r="2.07" fill="#2B3FC4" />
<circle cx="69.2" cy="467.61" r="1.03" fill="#2B3FC4" />
<circle cx="137" cy="493.61" r="2.3" fill="#2B3FC4" />
<circle cx="82.25" cy="489.9" r="2.42" fill="#2B3FC4" />
<circle cx="62.8" cy="478.76" r="2.18" fill="#2B3FC4" />
<circle cx="52.3" cy="465.14" r="2.64" fill="#2B3FC4" />
<circle cx="97.4" cy="513.42" r="2.3" fill="#2B3FC4" />
<circle cx="75.2" cy="509.71" r="2.53" fill="#2B3FC4" />
<circle cx="54.75" cy="505.37" r="2.07" fill="#2B3FC4" />
<circle cx="72.6" cy="523.32" r="2.42" fill="#2B3FC4" />
<circle cx="165" cy="543.13" r="1.72" fill="#2B3FC4" />
<circle cx="157.85" cy="539.42" r="1.84" fill="#2B3FC4" />
<circle cx="125.1" cy="535.08" r="2.42" fill="#2B3FC4" />
<circle cx="149.15" cy="553.04" r="2.3" fill="#2B3FC4" />
<circle cx="162.05" cy="572.84" r="2.53" fill="#2B3FC4" />
<circle cx="150.8" cy="569.13" r="2.3" fill="#2B3FC4" />
<circle cx="143.65" cy="564.8" r="1.38" fill="#2B3FC4" />
<circle cx="121.9" cy="558.92" r="2.53" fill="#2B3FC4" />
<circle cx="119.55" cy="582.75" r="2.53" fill="#2B3FC4" />
<circle cx="99.2" cy="570.83" r="1.49" fill="#2B3FC4" />
<circle cx="145.9" cy="597.6" r="2.42" fill="#2B3FC4" />
<circle cx="112.65" cy="593.89" r="2.53" fill="#2B3FC4" />
<circle cx="77.1" cy="558.72" r="2.3" fill="#2B3FC4" />
<circle cx="53.6" cy="541.02" r="2.18" fill="#2B3FC4" />
<circle cx="48.2" cy="523.2" r="1.03" fill="#2B3FC4" />
<circle cx="39.6" cy="494.17" r="2.64" fill="#2B3FC4" />
<rect x="195.4" y="277.8" width="11.9" height="10.7" fill="#FF0000"/>
<rect x="195.4" y="288.5" width="11.9" height="9.2" fill="#FFC000"/>
<rect x="195.4" y="297.7" width="11.9" height="16.1" fill="#FFFF00"/>
<rect x="195.4" y="313.8" width="11.9" height="10.2" fill="#00B050"/>
<rect x="195.4" y="324" width="11.9" height="9.2" fill="#4472C4"/>
<rect x="195.4" y="333.2" width="11.9" height="14.8" fill="#7030A0"/>
<rect x="195.4" y="348" width="11.9" height="10.5" fill="#C00000"/>
<rect x="195.4" y="358.5" width="11.9" height="9.4" fill="#44546A"/>
<rect x="195.4" y="367.9" width="11.9" height="9.9" fill="#002060"/>
<rect x="195.4" y="377.8" width="11.9" height="19.9" fill="#BFBFBF"/>
<rect x="195.4" y="397.7" width="11.9" height="9.9" fill="#ED7D31"/>
<rect x="195.4" y="407.6" width="11.9" height="10.4" fill="#A9E67F"/>
<rect x="195.4" y="418" width="11.9" height="11.3" fill="#D5A6C8"/>
<rect x="195.4" y="429.3" width="11.9" height="19.6" fill="#9DD9DC"/>
<rect x="195.4" y="448.9" width="11.9" height="10.2" fill="#C8900E"/>
<rect x="195.4" y="459.1" width="11.9" height="9.6" fill="#2EA85A"/>
<rect x="195.4" y="468.7" width="11.9" height="28.8" fill="#E080FF"/>
<rect x="195.4" y="497.5" width="11.9" height="19.9" fill="#843C0C"/>
<rect x="195.4" y="517.4" width="11.9" height="9.9" fill="#B4C7E7"/>
<rect x="195.4" y="527.3" width="11.9" height="50.7" fill="#A9D18E"/>
<rect x="195.4" y="578" width="11.9" height="10.3" fill="#7F7F7F"/>
<rect x="195.4" y="588.3" width="11.9" height="14.5" fill="#41A5B5"/>
<text x="220.5" y="287.8" font-size="12.8" textLength="33.2" lengthAdjust="spacingAndGlyphs" stroke="#000" stroke-width="0.2">OR94bs</text>
<text x="221" y="304.6" font-size="12.8" textLength="32.7" lengthAdjust="spacingAndGlyphs" stroke="#000" stroke-width="0.2">OR67ds</text>
<text x="221" y="326.2" font-size="12.8" textLength="32.2" lengthAdjust="spacingAndGlyphs" stroke="#000" stroke-width="0.2">OR63as</text>
<text x="221" y="343.8" font-size="12.8" textLength="32.2" lengthAdjust="spacingAndGlyphs" stroke="#000" stroke-width="0.2">OR88as</text>
<text x="221" y="356.7" font-size="12.8" textLength="32.2" lengthAdjust="spacingAndGlyphs" stroke="#000" stroke-width="0.2">OR69as</text>
<text x="221" y="366.7" font-size="12.8" textLength="32.2" lengthAdjust="spacingAndGlyphs" stroke="#000" stroke-width="0.2">OR67cs</text>
<text x="219.7" y="377.1" font-size="12.8" textLength="34" lengthAdjust="spacingAndGlyphs" stroke="#000" stroke-width="0.2">OR85bc</text>
<text x="224.7" y="390.7" font-size="12.8" textLength="22.3" lengthAdjust="spacingAndGlyphs" stroke="#000" stroke-width="0.2">OR2s</text>
<text x="216.5" y="403.9" font-size="12.8" textLength="41" lengthAdjust="spacingAndGlyphs" stroke="#000" stroke-width="0.2">OR1a/45a</text>
<text x="221" y="415.5" font-size="12.8" textLength="32.2" lengthAdjust="spacingAndGlyphs" stroke="#000" stroke-width="0.2">OR43as</text>
<text x="221" y="428" font-size="12.8" textLength="32.2" lengthAdjust="spacingAndGlyphs" stroke="#000" stroke-width="0.2">OR85es</text>
<text x="221.5" y="442.9" font-size="12.8" textLength="32.5" lengthAdjust="spacingAndGlyphs" stroke="#000" stroke-width="0.2">OR83as</text>
<text x="221.5" y="462.2" font-size="12.8" textLength="32.2" lengthAdjust="spacingAndGlyphs" stroke="#000" stroke-width="0.2">OR59as</text>
<text x="220.2" y="485.8" font-size="12.8" textLength="34.3" lengthAdjust="spacingAndGlyphs" stroke="#000" stroke-width="0.2">OR33ab</text>
<text x="211" y="510.6" font-size="12.8" textLength="54.6" lengthAdjust="spacingAndGlyphs" stroke="#000" stroke-width="0.2">OR7a/2a/33b</text>
<text x="217.8" y="526.7" font-size="12.8" textLength="40.9" lengthAdjust="spacingAndGlyphs" stroke="#000" stroke-width="0.2">OR7a/98a</text>
<text x="222.2" y="565.7" font-size="12.8" textLength="27.8" lengthAdjust="spacingAndGlyphs" stroke="#000" stroke-width="0.2">OR7as</text>
<text x="232.6" y="266.9" font-size="12.6" textLength="100.5" lengthAdjust="spacingAndGlyphs" stroke="#000" stroke-width="0.15">Tandem repeat Clusters</text>
<path d="M229.7 266.2L209.3 274.9M336.9 265.4L352 274.5M210.1 290.1L218.8 300L209.1 311.6M209.1 315.4L217.8 322.2L209.3 329.2M210.5 451L219.7 459.2L210.5 465.6M211.5 535.4L222.2 554M209.8 588.8L224.2 569.4" fill="none" stroke="#3355A8" stroke-width="0.7"/>
<text x="3.2" y="534.7" font-size="8.2" textLength="31.5" lengthAdjust="spacingAndGlyphs">bootstrap</text>
<line x1="2.8" y1="537.6" x2="35" y2="537.6" stroke="#000" stroke-width="0.4" />
<circle cx="8" cy="546.6" r="0.57" fill="#2B3FC4" />
<text x="15.3" y="549.4" font-size="7.8" textLength="9.5" lengthAdjust="spacingAndGlyphs">0.2</text>
<circle cx="8" cy="558.8" r="0.98" fill="#2B3FC4" />
<text x="15.3" y="561.6" font-size="7.8" textLength="9.5" lengthAdjust="spacingAndGlyphs">0.4</text>
<circle cx="8" cy="571.3" r="1.44" fill="#2B3FC4" />
<text x="15.3" y="574.1" font-size="7.8" textLength="9.5" lengthAdjust="spacingAndGlyphs">0.6</text>
<circle cx="8" cy="584.1" r="1.95" fill="#2B3FC4" />
<text x="15.3" y="586.9" font-size="7.8" textLength="9.5" lengthAdjust="spacingAndGlyphs">0.8</text>
<circle cx="8" cy="596.3" r="2.53" fill="#2B3FC4" />
<text x="18.7" y="599.1" font-size="7.8" textLength="3.2" lengthAdjust="spacingAndGlyphs">1</text>
<path d="M57.8 598.3V600.8M57.8 599.6H93.8M93.8 598.3V600.8" stroke="#000" stroke-width="0.6" fill="none"/>
<text x="76.4" y="607.2" font-size="7.6" text-anchor="middle" textLength="9.5" lengthAdjust="spacingAndGlyphs">0.1</text>
<text x="4.7" y="276.3" font-size="18.6" textLength="8" lengthAdjust="spacingAndGlyphs">c</text>
</g>
<g id="panel_c2">
<path d="M272.29 279.5H358.17M272.29 284.5H314.96M272.29 289.5H309.56M272.29 294.5H309.56M272.29 299.5H309.02M272.29 304.5H309.02M272.29 309.5H309.02M272.29 314.5H445.39M272.29 319.5H420.82M272.29 324.5H406.78M272.29 329.5H387.87M272.29 334.5H310.91M272.29 339.5H310.91M272.29 344.5H310.91M272.29 349.5H337.37M272.29 354.5H336.56M272.29 359.5H314.42M272.29 364.5H321.71M272.29 369.5H389.49M272.29 374.5H342.77M272.29 379.5H318.2M272.29 384.5H318.2M272.29 389.5H318.2M272.29 394.5H318.2M272.29 399.5H321.71M272.29 404.5H313.61M272.29 409.5H319.82M272.29 414.5H346.83M272.29 419.5H346.83M272.29 424.5H352.77M272.29 429.5H395.16M272.29 434.5H424.33M272.29 439.5H401.38M272.29 444.5H449.17M272.29 449.5H304.97M272.29 454.5H304.97M272.29 459.5H391.92M272.29 464.5H377.88M272.29 469.5H304.16M272.29 474.5H292.82M272.29 479.5H304.16M272.29 484.5H304.97M272.29 489.5H304.97M272.29 494.5H304.97M272.29 499.5H383.01M272.29 504.5H306.05M272.29 509.5H308.21M272.29 514.5H306.32M272.29 519.5H310.37M272.29 524.5H317.66M272.29 529.5H307.67M272.29 534.5H281.74M272.29 539.5H307.4M272.29 544.5H307.4M272.29 549.5H307.4M272.29 554.5H307.4M272.29 559.5H292.82M272.29 564.5H307.4M272.29 569.5H307.4M272.29 574.5H307.4M272.29 579.5H307.4M272.29 584.5H307.4M272.29 590.8H308.21M272.29 595.8H310.1M272.29 600.8H310.91" stroke="#4F7FD0" stroke-width="0.55" fill="none"/>
<path d="M272.64 277.95h11.45v3.1h-11.45zM291 277.95h2v3.1h-2zM332.05 277.95h7.67v3.1h-7.67zM344.2 277.95h5.51v3.1h-5.51zM351.77 277.95h6.05v3.1h-6.05z" fill="#E8222A" stroke="#14275A" stroke-width="0.95" stroke-linejoin="miter"/>
<path d="M272.64 282.95h7.67v3.1h-7.67zM282.36 282.95h2v3.1h-2zM287.49 282.95h2v3.1h-2zM292.36 282.95h7.4v3.1h-7.4zM301.81 282.95h5.24v3.1h-5.24zM309.1 282.95h5.51v3.1h-5.51z" fill="#E8222A" stroke="#14275A" stroke-width="0.95" stroke-linejoin="miter"/>
<path d="M272.64 287.95h2v3.1h-2zM276.69 287.95h3.35v3.1h-3.35zM283.44 287.95h4.16v3.1h-4.16zM289.65 287.95h19.55v3.1h-19.55z" fill="#E8A820" stroke="#14275A" stroke-width="0.95" stroke-linejoin="miter"/>
<path d="M272.64 292.95h19.55v3.1h-19.55zM294.52 292.95h4.7v3.1h-4.7zM301.81 292.95h3.35v3.1h-3.35zM307.75 292.95h1.46v3.1h-1.46z" fill="#E8A820" stroke="#14275A" stroke-width="0.95" stroke-linejoin="miter"/>
<path d="M272.64 297.95h19.55v3.1h-19.55zM294.52 297.95h4.7v3.1h-4.7zM301.81 297.95h3.35v3.1h-3.35zM307.21 297.95h1.46v3.1h-1.46z" fill="#E6E23A" stroke="#14275A" stroke-width="0.95" stroke-linejoin="miter"/>
<path d="M272.64 302.95h19.55v3.1h-19.55zM294.52 302.95h4.7v3.1h-4.7zM301.81 302.95h3.35v3.1h-3.35zM307.21 302.95h1.46v3.1h-1.46z" fill="#E6E23A" stroke="#14275A" stroke-width="0.95" stroke-linejoin="miter"/>
<path d="M272.64 307.95h19.55v3.1h-19.55zM294.52 307.95h4.7v3.1h-4.7zM301.81 307.95h3.35v3.1h-3.35zM307.21 307.95h1.46v3.1h-1.46z" fill="#E6E23A" stroke="#14275A" stroke-width="0.95" stroke-linejoin="miter"/>
<path d="M272.64 312.95h2v3.1h-2zM285.6 312.95h3.89v3.1h-3.89zM291.54 312.95h2.81v3.1h-2.81zM296.41 312.95h2.81v3.1h-2.81zM328 312.95h4.7v3.1h-4.7zM334.21 312.95h3.35v3.1h-3.35zM355.28 312.95h5.24v3.1h-5.24zM362.57 312.95h4.16v3.1h-4.16zM398.22 312.95h3.35v3.1h-3.35zM441.42 312.95h3.62v3.1h-3.62z" fill="#18A050" stroke="#14275A" stroke-width="0.95" stroke-linejoin="miter"/>
<path d="M272.64 317.95h2v3.1h-2zM278.04 317.95h4.16v3.1h-4.16zM286.95 317.95h2.54v3.1h-2.54zM336.1 317.95h2.27v3.1h-2.27zM343.66 317.95h5.51v3.1h-5.51zM350.42 317.95h2v3.1h-2zM389.03 317.95h5.24v3.1h-5.24zM395.78 317.95h3.35v3.1h-3.35zM410.64 317.95h2.54v3.1h-2.54zM416.58 317.95h3.89v3.1h-3.89z" fill="#18A050" stroke="#14275A" stroke-width="0.95" stroke-linejoin="miter"/>
<path d="M272.64 322.95h2.81v3.1h-2.81zM278.04 322.95h2.81v3.1h-2.81zM282.9 322.95h3.89v3.1h-3.89zM288.3 322.95h4.7v3.1h-4.7zM309.37 322.95h3.08v3.1h-3.08zM380.66 322.95h4.16v3.1h-4.16zM387.41 322.95h2.81v3.1h-2.81zM394.43 322.95h3.89v3.1h-3.89zM399.57 322.95h4.7v3.1h-4.7zM405.24 322.95h1.19v3.1h-1.19z" fill="#4472C4" stroke="#14275A" stroke-width="0.95" stroke-linejoin="miter"/>
<path d="M272.64 327.95h3.35v3.1h-3.35zM329.62 327.95h3.08v3.1h-3.08zM334.75 327.95h4.16v3.1h-4.16zM340.96 327.95h4.7v3.1h-4.7zM350.42 327.95h2.81v3.1h-2.81zM362.57 327.95h4.7v3.1h-4.7zM369.32 327.95h2.81v3.1h-2.81zM375.26 327.95h2.81v3.1h-2.81zM379.58 327.95h3.89v3.1h-3.89zM385.52 327.95h2v3.1h-2z" fill="#4472C4" stroke="#14275A" stroke-width="0.95" stroke-linejoin="miter"/>
<path d="M272.64 332.95h1.46v3.1h-1.46zM275.34 332.95h4.16v3.1h-4.16zM282.09 332.95h4.7v3.1h-4.7zM289.11 332.95h21.44v3.1h-21.44z" fill="#7030A0" stroke="#14275A" stroke-width="0.95" stroke-linejoin="miter"/>
<path d="M272.64 337.95h1.46v3.1h-1.46zM275.34 337.95h4.16v3.1h-4.16zM282.09 337.95h4.7v3.1h-4.7zM289.11 337.95h21.44v3.1h-21.44z" fill="#7030A0" stroke="#14275A" stroke-width="0.95" stroke-linejoin="miter"/>
<path d="M272.64 342.95h1.46v3.1h-1.46zM275.34 342.95h4.16v3.1h-4.16zM282.09 342.95h4.7v3.1h-4.7zM289.11 342.95h21.44v3.1h-21.44z" fill="#7030A0" stroke="#14275A" stroke-width="0.95" stroke-linejoin="miter"/>
<path d="M272.64 347.95h1.46v3.1h-1.46zM276.15 347.95h3.89v3.1h-3.89zM289.65 347.95h4.7v3.1h-4.7zM296.95 347.95h10.37v3.1h-10.37zM326.92 347.95h10.1v3.1h-10.1z" fill="#C0101A" stroke="#14275A" stroke-width="0.95" stroke-linejoin="miter"/>
<path d="M272.64 352.95h1.46v3.1h-1.46zM276.15 352.95h3.89v3.1h-3.89zM305.05 352.95h4.16v3.1h-4.16zM311.8 352.95h10.91v3.1h-10.91zM325.3 352.95h10.91v3.1h-10.91z" fill="#C0101A" stroke="#14275A" stroke-width="0.95" stroke-linejoin="miter"/>
<path d="M272.64 357.95h2v3.1h-2zM276.15 357.95h4.16v3.1h-4.16zM282.09 357.95h4.97v3.1h-4.97zM293.17 357.95h20.9v3.1h-20.9z" fill="#44546A" stroke="#14275A" stroke-width="0.95" stroke-linejoin="miter"/>
<path d="M272.64 362.95h2v3.1h-2zM276.69 362.95h4.16v3.1h-4.16zM282.9 362.95h5.24v3.1h-5.24zM300.46 362.95h20.9v3.1h-20.9z" fill="#44546A" stroke="#14275A" stroke-width="0.95" stroke-linejoin="miter"/>
<path d="M272.64 367.95h20.9v3.1h-20.9zM295.06 367.95h6.05v3.1h-6.05zM306.4 367.95h4.16v3.1h-4.16zM387.68 367.95h1.46v3.1h-1.46z" fill="#0A2468" stroke="#14275A" stroke-width="0.95" stroke-linejoin="miter"/>
<path d="M272.64 372.95h20.9v3.1h-20.9zM295.06 372.95h5.51v3.1h-5.51zM334.21 372.95h3.89v3.1h-3.89zM340.42 372.95h2v3.1h-2z" fill="#0A2468" stroke="#14275A" stroke-width="0.95" stroke-linejoin="miter"/>
<path d="M272.64 377.95h7.67v3.1h-7.67zM282.9 377.95h2.81v3.1h-2.81zM288.3 377.95h7.4v3.1h-7.4zM297.76 377.95h2v3.1h-2zM305.86 377.95h2v3.1h-2zM310.72 377.95h2.54v3.1h-2.54zM315.85 377.95h2v3.1h-2z" fill="#C4C4C4" stroke="#14275A" stroke-width="0.95" stroke-linejoin="miter"/>
<path d="M272.64 382.95h7.67v3.1h-7.67zM282.9 382.95h2.81v3.1h-2.81zM288.3 382.95h7.4v3.1h-7.4zM297.76 382.95h2v3.1h-2zM305.86 382.95h2v3.1h-2zM310.72 382.95h2.54v3.1h-2.54zM315.85 382.95h2v3.1h-2z" fill="#C4C4C4" stroke="#14275A" stroke-width="0.95" stroke-linejoin="miter"/>
<path d="M272.64 387.95h7.67v3.1h-7.67zM282.9 387.95h2.81v3.1h-2.81zM288.3 387.95h7.4v3.1h-7.4zM297.76 387.95h2v3.1h-2zM305.86 387.95h2v3.1h-2zM310.72 387.95h2.54v3.1h-2.54zM315.85 387.95h2v3.1h-2z" fill="#C4C4C4" stroke="#14275A" stroke-width="0.95" stroke-linejoin="miter"/>
<path d="M272.64 392.95h7.67v3.1h-7.67zM282.9 392.95h2.81v3.1h-2.81zM288.3 392.95h7.4v3.1h-7.4zM297.76 392.95h2v3.1h-2zM305.86 392.95h2v3.1h-2zM310.72 392.95h2.54v3.1h-2.54zM315.85 392.95h2v3.1h-2z" fill="#C4C4C4" stroke="#14275A" stroke-width="0.95" stroke-linejoin="miter"/>
<path d="M272.64 397.95h8.21v3.1h-8.21zM282.9 397.95h3.89v3.1h-3.89zM291 397.95h11.45v3.1h-11.45zM304.51 397.95h3.35v3.1h-3.35zM315.31 397.95h6.05v3.1h-6.05z" fill="#ED7D31" stroke="#14275A" stroke-width="0.95" stroke-linejoin="miter"/>
<path d="M272.64 402.95h9.56v3.1h-9.56zM285.6 402.95h3.35v3.1h-3.35zM291.54 402.95h12.26v3.1h-12.26zM305.86 402.95h3.35v3.1h-3.35zM311.8 402.95h1.46v3.1h-1.46z" fill="#ED7D31" stroke="#14275A" stroke-width="0.95" stroke-linejoin="miter"/>
<path d="M272.64 407.95h2.81v3.1h-2.81zM277.5 407.95h2.54v3.1h-2.54zM282.09 407.95h2.81v3.1h-2.81zM286.95 407.95h2.54v3.1h-2.54zM291.54 407.95h7.67v3.1h-7.67zM305.86 407.95h3.35v3.1h-3.35zM311.8 407.95h7.67v3.1h-7.67z" fill="#A4E070" stroke="#14275A" stroke-width="0.95" stroke-linejoin="miter"/>
<path d="M272.64 412.95h2.81v3.1h-2.81zM277.5 412.95h2.54v3.1h-2.54zM282.09 412.95h2.81v3.1h-2.81zM286.95 412.95h2.54v3.1h-2.54zM291.54 412.95h7.67v3.1h-7.67zM332.32 412.95h3.89v3.1h-3.89zM338.8 412.95h7.67v3.1h-7.67z" fill="#A4E070" stroke="#14275A" stroke-width="0.95" stroke-linejoin="miter"/>
<path d="M272.64 417.95h1.46v3.1h-1.46zM276.69 417.95h6.86v3.1h-6.86zM286.95 417.95h7.4v3.1h-7.4zM325.3 417.95h4.97v3.1h-4.97zM332.86 417.95h13.61v3.1h-13.61z" fill="#D8A8CC" stroke="#14275A" stroke-width="0.95" stroke-linejoin="miter"/>
<path d="M272.64 422.95h1.46v3.1h-1.46zM276.69 422.95h6.86v3.1h-6.86zM286.95 422.95h7.4v3.1h-7.4zM331.51 422.95h4.7v3.1h-4.7zM338.26 422.95h14.15v3.1h-14.15z" fill="#D8A8CC" stroke="#14275A" stroke-width="0.95" stroke-linejoin="miter"/>
<path d="M272.64 427.95h9.56v3.1h-9.56zM345.56 427.95h4.16v3.1h-4.16zM351.77 427.95h5.51v3.1h-5.51zM371.48 427.95h7.4v3.1h-7.4zM381.47 427.95h7.94v3.1h-7.94zM392.81 427.95h2v3.1h-2z" fill="#9DD9DC" stroke="#14275A" stroke-width="0.95" stroke-linejoin="miter"/>
<path d="M272.64 432.95h2v3.1h-2zM278.04 432.95h7.4v3.1h-7.4zM287.49 432.95h7.67v3.1h-7.67zM352.31 432.95h5.51v3.1h-5.51zM359.33 432.95h3.89v3.1h-3.89zM412.53 432.95h11.45v3.1h-11.45z" fill="#9DD9DC" stroke="#14275A" stroke-width="0.95" stroke-linejoin="miter"/>
<path d="M272.64 437.95h2v3.1h-2zM278.04 437.95h7.4v3.1h-7.4zM287.49 437.95h7.67v3.1h-7.67zM344.48 437.95h5.24v3.1h-5.24zM351.77 437.95h4.7v3.1h-4.7zM395.51 437.95h5.51v3.1h-5.51z" fill="#9DD9DC" stroke="#14275A" stroke-width="0.95" stroke-linejoin="miter"/>
<path d="M272.64 442.95h2v3.1h-2zM278.04 442.95h7.4v3.1h-7.4zM287.49 442.95h7.67v3.1h-7.67zM321.25 442.95h4.97v3.1h-4.97zM328.81 442.95h4.7v3.1h-4.7zM437.37 442.95h11.45v3.1h-11.45z" fill="#9DD9DC" stroke="#14275A" stroke-width="0.95" stroke-linejoin="miter"/>
<path d="M272.64 447.95h19.01v3.1h-19.01zM293.71 447.95h10.91v3.1h-10.91z" fill="#C8900E" stroke="#14275A" stroke-width="0.95" stroke-linejoin="miter"/>
<path d="M272.64 452.95h19.01v3.1h-19.01zM293.71 452.95h10.91v3.1h-10.91z" fill="#C8900E" stroke="#14275A" stroke-width="0.95" stroke-linejoin="miter"/>
<path d="M272.64 457.95h4.7v3.1h-4.7zM326.92 457.95h3.35v3.1h-3.35zM332.05 457.95h1.46v3.1h-1.46zM382.82 457.95h8.75v3.1h-8.75z" fill="#2EA85A" stroke="#14275A" stroke-width="0.95" stroke-linejoin="miter"/>
<path d="M272.64 462.95h19.55v3.1h-19.55zM367.16 462.95h10.37v3.1h-10.37z" fill="#2EA85A" stroke="#14275A" stroke-width="0.95" stroke-linejoin="miter"/>
<path d="M272.64 467.95h10.91v3.1h-10.91zM285.6 467.95h18.2v3.1h-18.2z" fill="#E080FF" stroke="#14275A" stroke-width="0.95" stroke-linejoin="miter"/>
<path d="M272.64 472.95h10.37v3.1h-10.37zM285.6 472.95h6.86v3.1h-6.86z" fill="#E080FF" stroke="#14275A" stroke-width="0.95" stroke-linejoin="miter"/>
<path d="M272.64 477.95h10.91v3.1h-10.91zM285.6 477.95h18.2v3.1h-18.2z" fill="#E080FF" stroke="#14275A" stroke-width="0.95" stroke-linejoin="miter"/>
<path d="M272.64 482.95h19.01v3.1h-19.01zM294.25 482.95h10.37v3.1h-10.37z" fill="#E080FF" stroke="#14275A" stroke-width="0.95" stroke-linejoin="miter"/>
<path d="M272.64 487.95h19.01v3.1h-19.01zM294.25 487.95h10.37v3.1h-10.37z" fill="#E080FF" stroke="#14275A" stroke-width="0.95" stroke-linejoin="miter"/>
<path d="M272.64 492.95h19.01v3.1h-19.01zM294.25 492.95h10.37v3.1h-10.37z" fill="#E080FF" stroke="#14275A" stroke-width="0.95" stroke-linejoin="miter"/>
<path d="M272.64 497.95h19.01v3.1h-19.01zM370.67 497.95h8.75v3.1h-8.75zM381.47 497.95h1.19v3.1h-1.19z" fill="#843C0C" stroke="#14275A" stroke-width="0.95" stroke-linejoin="miter"/>
<path d="M272.64 502.95h19.01v3.1h-19.01zM293.71 502.95h8.75v3.1h-8.75zM304.51 502.95h1.19v3.1h-1.19z" fill="#843C0C" stroke="#14275A" stroke-width="0.95" stroke-linejoin="miter"/>
<path d="M272.64 507.95h1.46v3.1h-1.46zM276.69 507.95h8.75v3.1h-8.75zM288.3 507.95h19.55v3.1h-19.55z" fill="#843C0C" stroke="#14275A" stroke-width="0.95" stroke-linejoin="miter"/>
<path d="M272.64 512.95h19.01v3.1h-19.01zM293.71 512.95h8.75v3.1h-8.75zM305.05 512.95h0.92v3.1h-0.92z" fill="#843C0C" stroke="#14275A" stroke-width="0.95" stroke-linejoin="miter"/>
<path d="M272.64 517.95h2v3.1h-2zM276.69 517.95h8.75v3.1h-8.75zM287.49 517.95h19.01v3.1h-19.01zM308.56 517.95h1.46v3.1h-1.46z" fill="#B4C7E7" stroke="#14275A" stroke-width="0.95" stroke-linejoin="miter"/>
<path d="M272.64 522.95h4.7v3.1h-4.7zM279.66 522.95h8.75v3.1h-8.75zM290.46 522.95h18.74v3.1h-18.74zM311.26 522.95h6.05v3.1h-6.05z" fill="#B4C7E7" stroke="#14275A" stroke-width="0.95" stroke-linejoin="miter"/>
<path d="M272.64 527.95h19.01v3.1h-19.01zM293.71 527.95h8.75v3.1h-8.75zM305.32 527.95h2v3.1h-2z" fill="#A9D18E" stroke="#14275A" stroke-width="0.95" stroke-linejoin="miter"/>
<path d="M272.64 532.95h4.7v3.1h-4.7zM279.39 532.95h2v3.1h-2z" fill="#A9D18E" stroke="#14275A" stroke-width="0.95" stroke-linejoin="miter"/>
<path d="M272.64 537.95h2v3.1h-2zM276.69 537.95h8.75v3.1h-8.75zM287.49 537.95h19.55v3.1h-19.55z" fill="#A9D18E" stroke="#14275A" stroke-width="0.95" stroke-linejoin="miter"/>
<path d="M272.64 542.95h2v3.1h-2zM276.69 542.95h8.75v3.1h-8.75zM287.49 542.95h19.55v3.1h-19.55z" fill="#A9D18E" stroke="#14275A" stroke-width="0.95" stroke-linejoin="miter"/>
<path d="M272.64 547.95h19.01v3.1h-19.01zM293.71 547.95h8.75v3.1h-8.75zM305.05 547.95h2v3.1h-2z" fill="#A9D18E" stroke="#14275A" stroke-width="0.95" stroke-linejoin="miter"/>
<path d="M272.64 552.95h19.01v3.1h-19.01zM293.71 552.95h8.75v3.1h-8.75zM305.05 552.95h2v3.1h-2z" fill="#A9D18E" stroke="#14275A" stroke-width="0.95" stroke-linejoin="miter"/>
<path d="M272.64 557.95h2v3.1h-2zM277.5 557.95h3.35v3.1h-3.35zM284.25 557.95h2v3.1h-2zM288.3 557.95h4.16v3.1h-4.16z" fill="#A9D18E" stroke="#14275A" stroke-width="0.95" stroke-linejoin="miter"/>
<path d="M272.64 562.95h19.01v3.1h-19.01zM293.71 562.95h8.75v3.1h-8.75zM305.05 562.95h2v3.1h-2z" fill="#A9D18E" stroke="#14275A" stroke-width="0.95" stroke-linejoin="miter"/>
<path d="M272.64 567.95h19.01v3.1h-19.01zM293.71 567.95h8.75v3.1h-8.75zM305.05 567.95h2v3.1h-2z" fill="#A9D18E" stroke="#14275A" stroke-width="0.95" stroke-linejoin="miter"/>
<path d="M272.64 572.95h2v3.1h-2zM276.69 572.95h8.75v3.1h-8.75zM287.49 572.95h19.55v3.1h-19.55z" fill="#A9D18E" stroke="#14275A" stroke-width="0.95" stroke-linejoin="miter"/>
<path d="M272.64 577.95h19.01v3.1h-19.01zM294.25 577.95h8.21v3.1h-8.21zM305.05 577.95h2v3.1h-2z" fill="#7F8790" stroke="#14275A" stroke-width="0.95" stroke-linejoin="miter"/>
<path d="M272.64 582.95h19.01v3.1h-19.01zM294.25 582.95h8.21v3.1h-8.21zM305.05 582.95h2v3.1h-2z" fill="#7F8790" stroke="#14275A" stroke-width="0.95" stroke-linejoin="miter"/>
<path d="M272.64 589.25h2v3.1h-2zM276.69 589.25h8.75v3.1h-8.75zM288.3 589.25h19.55v3.1h-19.55z" fill="#2E9DB5" stroke="#14275A" stroke-width="0.95" stroke-linejoin="miter"/>
<path d="M272.64 594.25h2v3.1h-2zM276.69 594.25h8.75v3.1h-8.75zM290.19 594.25h19.55v3.1h-19.55z" fill="#2E9DB5" stroke="#14275A" stroke-width="0.95" stroke-linejoin="miter"/>
<path d="M272.64 599.25h2v3.1h-2zM276.69 599.25h8.75v3.1h-8.75zM290.19 599.25h20.36v3.1h-20.36z" fill="#2E9DB5" stroke="#14275A" stroke-width="0.95" stroke-linejoin="miter"/>
<path d="M412.6 605.9V607.2H441V605.9" stroke="#000" stroke-width="1.2" fill="none" stroke-linejoin="round"/>
<text x="428.1" y="614.7" font-size="5.8" class="s" text-anchor="middle" textLength="24.7" lengthAdjust="spacingAndGlyphs" stroke="#000" stroke-width="0.3">1000bp</text>
</g>
<g id="panel_c3">
<rect x="457.2" y="277" width="189.24" height="325" fill="#0000FF"/>
<rect x="457.2" y="277" width="15.77" height="5" fill="#5050FF"/>
<rect x="472.97" y="277" width="15.77" height="5" fill="#7070F8"/>
<rect x="457.2" y="282" width="15.77" height="5" fill="#FFFFFF"/>
<rect x="472.97" y="282" width="15.77" height="5" fill="#D8D8FF"/>
<rect x="457.2" y="287" width="15.77" height="5" fill="#FFF0F0"/>
<rect x="472.97" y="287" width="15.77" height="5" fill="#D0D0FF"/>
<rect x="457.2" y="292" width="15.77" height="5" fill="#FFB0B0"/>
<rect x="472.97" y="292" width="15.77" height="5" fill="#FFE0E0"/>
<rect x="457.2" y="297" width="15.77" height="5" fill="#FF8080"/>
<rect x="472.97" y="297" width="15.77" height="5" fill="#FF9090"/>
<rect x="457.2" y="302" width="15.77" height="5" fill="#FFB8B8"/>
<rect x="472.97" y="302" width="15.77" height="5" fill="#FFD0D0"/>
<rect x="457.2" y="307" width="15.77" height="5" fill="#FFF4F0"/>
<rect x="472.97" y="307" width="15.77" height="5" fill="#7878F8"/>
<rect x="457.2" y="312" width="15.77" height="5" fill="#B8B8FF"/>
<rect x="472.97" y="312" width="15.77" height="5" fill="#D0D0FF"/>
<rect x="457.2" y="317" width="15.77" height="5" fill="#FFD0D0"/>
<rect x="472.97" y="317" width="15.77" height="5" fill="#FFF0F0"/>
<rect x="457.2" y="327" width="15.77" height="5" fill="#FF9898"/>
<rect x="472.97" y="327" width="15.77" height="5" fill="#FFC0C0"/>
<rect x="457.2" y="332" width="15.77" height="5" fill="#FF5050"/>
<rect x="472.97" y="332" width="15.77" height="5" fill="#FF9090"/>
<rect x="457.2" y="337" width="15.77" height="5" fill="#FF5050"/>
<rect x="472.97" y="337" width="15.77" height="5" fill="#FF7070"/>
<rect x="457.2" y="342" width="15.77" height="5" fill="#E0E0FF"/>
<rect x="472.97" y="342" width="15.77" height="5" fill="#E0E0FF"/>
<rect x="457.2" y="347" width="15.77" height="5" fill="#D8D8FF"/>
<rect x="472.97" y="347" width="15.77" height="5" fill="#B8B8FF"/>
<rect x="457.2" y="352" width="15.77" height="5" fill="#FF7878"/>
<rect x="472.97" y="352" width="15.77" height="5" fill="#FFA0A0"/>
<rect x="457.2" y="357" width="15.77" height="5" fill="#FF7070"/>
<rect x="472.97" y="357" width="15.77" height="5" fill="#FFB0B0"/>
<rect x="457.2" y="362" width="15.77" height="5" fill="#FFB0B0"/>
<rect x="472.97" y="362" width="15.77" height="5" fill="#FFD8D8"/>
<rect x="457.2" y="377" width="15.77" height="5" fill="#9090FF"/>
<rect x="472.97" y="377" width="15.77" height="5" fill="#6868FF"/>
<rect x="457.2" y="382" width="15.77" height="5" fill="#A0A0FF"/>
<rect x="472.97" y="382" width="15.77" height="5" fill="#7070FF"/>
<rect x="457.2" y="387" width="15.77" height="5" fill="#FFFFFF"/>
<rect x="472.97" y="387" width="15.77" height="5" fill="#B0B0FF"/>
<rect x="457.2" y="392" width="15.77" height="5" fill="#5858F8"/>
<rect x="472.97" y="392" width="15.77" height="5" fill="#5050F8"/>
<rect x="457.2" y="407" width="15.77" height="5" fill="#A8A8FF"/>
<rect x="472.97" y="407" width="15.77" height="5" fill="#9090FF"/>
<rect x="457.2" y="412" width="15.77" height="5" fill="#C0C0FF"/>
<rect x="472.97" y="412" width="15.77" height="5" fill="#B0B0FF"/>
<rect x="457.2" y="417" width="15.77" height="5" fill="#1818F0"/>
<rect x="472.97" y="417" width="15.77" height="5" fill="#1818F0"/>
<rect x="457.2" y="422" width="15.77" height="5" fill="#1818F0"/>
<rect x="472.97" y="422" width="15.77" height="5" fill="#2020F0"/>
<rect x="457.2" y="457" width="15.77" height="5" fill="#5858F8"/>
<rect x="472.97" y="457" width="15.77" height="5" fill="#3030F0"/>
<rect x="457.2" y="462" width="15.77" height="5" fill="#FF8888"/>
<rect x="472.97" y="462" width="15.77" height="5" fill="#B8B8FF"/>
<rect x="457.2" y="517" width="15.77" height="5" fill="#3030F0"/>
<rect x="472.97" y="517" width="15.77" height="5" fill="#3030F0"/>
<rect x="457.2" y="522" width="15.77" height="5" fill="#FF6060"/>
<rect x="472.97" y="522" width="15.77" height="5" fill="#FF8080"/>
<rect x="457.2" y="527" width="15.77" height="5" fill="#8080FF"/>
<rect x="472.97" y="527" width="15.77" height="5" fill="#FFE8E4"/>
<rect x="457.2" y="532" width="15.77" height="5" fill="#1818F0"/>
<rect x="472.97" y="532" width="15.77" height="5" fill="#1010F0"/>
<rect x="457.2" y="537" width="15.77" height="5" fill="#8888FF"/>
<rect x="472.97" y="537" width="15.77" height="5" fill="#F0F0FF"/>
<rect x="457.2" y="542" width="15.77" height="5" fill="#3030F0"/>
<rect x="472.97" y="542" width="15.77" height="5" fill="#3838F0"/>
<rect x="457.2" y="547" width="15.77" height="5" fill="#FFB0B0"/>
<rect x="472.97" y="547" width="15.77" height="5" fill="#3030F0"/>
<rect x="457.2" y="552" width="15.77" height="5" fill="#3030F0"/>
<rect x="472.97" y="552" width="15.77" height="5" fill="#1010F0"/>
<rect x="457.2" y="557" width="15.77" height="5" fill="#7070FF"/>
<rect x="472.97" y="557" width="15.77" height="5" fill="#2020F0"/>
<rect x="457.2" y="562" width="15.77" height="5" fill="#6060F8"/>
<rect x="472.97" y="562" width="15.77" height="5" fill="#1010F0"/>
<rect x="457.2" y="567" width="15.77" height="5" fill="#D0D0FF"/>
<rect x="472.97" y="567" width="15.77" height="5" fill="#2020F0"/>
<rect x="457.2" y="572" width="15.77" height="5" fill="#FFB0B0"/>
<rect x="472.97" y="572" width="15.77" height="5" fill="#6868FF"/>
<rect x="457.2" y="577" width="15.77" height="5" fill="#B0B0FF"/>
<rect x="472.97" y="577" width="15.77" height="5" fill="#5050F8"/>
<rect x="457.2" y="582" width="15.77" height="5" fill="#FF8888"/>
<rect x="472.97" y="582" width="15.77" height="5" fill="#FFF0EC"/>
<rect x="457.2" y="587" width="15.77" height="5" fill="#FFD0D0"/>
<rect x="472.97" y="587" width="15.77" height="5" fill="#D8D8FF"/>
<rect x="457.2" y="592" width="15.77" height="5" fill="#FF9090"/>
<rect x="472.97" y="592" width="15.77" height="5" fill="#FFD8D8"/>
<rect x="457.2" y="597" width="15.77" height="5" fill="#D8D8FF"/>
<rect x="472.97" y="597" width="15.77" height="5" fill="#A0A0FF"/>
<rect x="488.74" y="372" width="15.77" height="5" fill="#7878FF"/>
<rect x="504.51" y="372" width="15.77" height="5" fill="#A0A0FF"/>
<rect x="488.74" y="392" width="15.77" height="5" fill="#2828F0"/>
<rect x="504.51" y="392" width="15.77" height="5" fill="#3838F0"/>
<rect x="488.74" y="427" width="15.77" height="5" fill="#B8B8FF"/>
<rect x="504.51" y="427" width="15.77" height="5" fill="#F4F4FF"/>
<rect x="488.74" y="432" width="15.77" height="5" fill="#8888FF"/>
<rect x="504.51" y="432" width="15.77" height="5" fill="#B0B0FF"/>
<rect x="488.74" y="437" width="15.77" height="5" fill="#5050F8"/>
<rect x="504.51" y="437" width="15.77" height="5" fill="#1818F0"/>
<rect x="488.74" y="442" width="15.77" height="5" fill="#B0B0FF"/>
<rect x="504.51" y="442" width="15.77" height="5" fill="#8888FF"/>
<rect x="488.74" y="467" width="15.77" height="5" fill="#FFE4E0"/>
<rect x="504.51" y="467" width="15.77" height="5" fill="#FF8080"/>
<rect x="488.74" y="477" width="15.77" height="5" fill="#8888FF"/>
<rect x="504.51" y="477" width="15.77" height="5" fill="#4848F8"/>
<rect x="488.74" y="482" width="15.77" height="5" fill="#5050F8"/>
<rect x="504.51" y="482" width="15.77" height="5" fill="#ECECFF"/>
<rect x="488.74" y="487" width="15.77" height="5" fill="#4040F8"/>
<rect x="504.51" y="487" width="15.77" height="5" fill="#5858F8"/>
<rect x="488.74" y="492" width="15.77" height="5" fill="#4040F8"/>
<rect x="504.51" y="492" width="15.77" height="5" fill="#3030F0"/>
<rect x="614.9" y="342" width="15.77" height="5" fill="#2020F4"/>
<rect x="630.67" y="342" width="15.77" height="5" fill="#0808FF"/>
<rect x="614.9" y="347" width="15.77" height="5" fill="#2828F4"/>
<rect x="630.67" y="347" width="15.77" height="5" fill="#1010FF"/>
<rect x="614.9" y="352" width="15.77" height="5" fill="#2020F4"/>
<rect x="630.67" y="352" width="15.77" height="5" fill="#0808FF"/>
<rect x="614.9" y="372" width="15.77" height="5" fill="#1818F8"/>
<rect x="630.67" y="372" width="15.77" height="5" fill="#0000FF"/>
<rect x="614.9" y="397" width="15.77" height="5" fill="#2424F6"/>
<rect x="630.67" y="397" width="15.77" height="5" fill="#0C0CFF"/>
<rect x="614.9" y="402" width="15.77" height="5" fill="#3030F6"/>
<rect x="630.67" y="402" width="15.77" height="5" fill="#1010FF"/>
<rect x="614.9" y="407" width="15.77" height="5" fill="#2020F6"/>
<rect x="630.67" y="407" width="15.77" height="5" fill="#0808FF"/>
<rect x="614.9" y="432" width="15.77" height="5" fill="#2020F6"/>
<rect x="630.67" y="432" width="15.77" height="5" fill="#0808FF"/>
<rect x="614.9" y="467" width="15.77" height="5" fill="#1C1CF6"/>
<rect x="630.67" y="467" width="15.77" height="5" fill="#0404FF"/>
<rect x="614.9" y="522" width="15.77" height="5" fill="#2020F6"/>
<rect x="630.67" y="522" width="15.77" height="5" fill="#1010FF"/>
<rect x="614.9" y="587" width="15.77" height="5" fill="#2828F6"/>
<rect x="630.67" y="587" width="15.77" height="5" fill="#1010FF"/>
<rect x="614.9" y="592" width="15.77" height="5" fill="#2020F6"/>
<rect x="630.67" y="592" width="15.77" height="5" fill="#0C0CFF"/>
<rect x="457.2" y="270.5" width="15.77" height="5" fill="#FA9088"/>
<rect x="472.97" y="270.5" width="15.77" height="5" fill="#00D2D8"/>
<rect x="488.74" y="270.5" width="15.77" height="5" fill="#FA9088"/>
<rect x="504.51" y="270.5" width="15.77" height="5" fill="#00D2D8"/>
<rect x="520.28" y="270.5" width="15.77" height="5" fill="#FA9088"/>
<rect x="536.05" y="270.5" width="15.77" height="5" fill="#00D2D8"/>
<rect x="551.82" y="270.5" width="15.77" height="5" fill="#FA9088"/>
<rect x="567.59" y="270.5" width="15.77" height="5" fill="#00D2D8"/>
<rect x="583.36" y="270.5" width="15.77" height="5" fill="#FA9088"/>
<rect x="599.13" y="270.5" width="15.77" height="5" fill="#00D2D8"/>
<rect x="614.9" y="270.5" width="15.77" height="5" fill="#FA9088"/>
<rect x="630.67" y="270.5" width="15.77" height="5" fill="#00D2D8"/>
<path d="M457.2 270.5V275.5M457.2 277V602M472.97 270.5V275.5M472.97 277V602M488.74 270.5V275.5M488.74 277V602M504.51 270.5V275.5M504.51 277V602M520.28 270.5V275.5M520.28 277V602M536.05 270.5V275.5M536.05 277V602M551.82 270.5V275.5M551.82 277V602M567.59 270.5V275.5M567.59 277V602M583.36 270.5V275.5M583.36 277V602M599.13 270.5V275.5M599.13 277V602M614.9 270.5V275.5M614.9 277V602M630.67 270.5V275.5M630.67 277V602M646.44 270.5V275.5M646.44 277V602M457.2 270.5H646.44M457.2 275.5H646.44M457.2 277.45H646.44M457.2 282.45H646.44M457.2 287.45H646.44M457.2 292.45H646.44M457.2 297.45H646.44M457.2 302.45H646.44M457.2 307.45H646.44M457.2 312.45H646.44M457.2 317.45H646.44M457.2 322.45H646.44M457.2 327.45H646.44M457.2 332.45H646.44M457.2 337.45H646.44M457.2 342.45H646.44M457.2 347.45H646.44M457.2 352.45H646.44M457.2 357.45H646.44M457.2 362.45H646.44M457.2 367.45H646.44M457.2 372.45H646.44M457.2 377.45H646.44M457.2 382.45H646.44M457.2 387.45H646.44M457.2 392.45H646.44M457.2 397.45H646.44M457.2 402.45H646.44M457.2 407.45H646.44M457.2 412.45H646.44M457.2 417.45H646.44M457.2 422.45H646.44M457.2 427.45H646.44M457.2 432.45H646.44M457.2 437.45H646.44M457.2 442.45H646.44M457.2 447.45H646.44M457.2 452.45H646.44M457.2 457.45H646.44M457.2 462.45H646.44M457.2 467.45H646.44M457.2 472.45H646.44M457.2 477.45H646.44M457.2 482.45H646.44M457.2 487.45H646.44M457.2 492.45H646.44M457.2 497.45H646.44M457.2 502.45H646.44M457.2 507.45H646.44M457.2 512.45H646.44M457.2 517.45H646.44M457.2 522.45H646.44M457.2 527.45H646.44M457.2 532.45H646.44M457.2 537.45H646.44M457.2 542.45H646.44M457.2 547.45H646.44M457.2 552.45H646.44M457.2 557.45H646.44M457.2 562.45H646.44M457.2 567.45H646.44M457.2 572.45H646.44M457.2 577.45H646.44M457.2 582.45H646.44M457.2 587.45H646.44M457.2 592.45H646.44M457.2 597.45H646.44M457.2 602.45H646.44" stroke="#94949C" stroke-width="1" fill="none"/>
<text x="471.2" y="266.5" font-size="12" text-anchor="middle" textLength="7" lengthAdjust="spacingAndGlyphs" stroke="#000" stroke-width="0.15">A</text>
<text x="502.8" y="266.5" font-size="12" text-anchor="middle" textLength="9" lengthAdjust="spacingAndGlyphs" stroke="#000" stroke-width="0.15">M</text>
<text x="536.6" y="266.5" font-size="12" text-anchor="middle" textLength="16" lengthAdjust="spacingAndGlyphs" stroke="#000" stroke-width="0.15">F-L</text>
<text x="568.9" y="266.5" font-size="12" text-anchor="middle" textLength="18.5" lengthAdjust="spacingAndGlyphs" stroke="#000" stroke-width="0.15">M-L</text>
<text x="597.6" y="266.5" font-size="12" text-anchor="middle" textLength="17" lengthAdjust="spacingAndGlyphs" stroke="#000" stroke-width="0.15">H-L</text>
<text x="630.2" y="266.5" font-size="12" text-anchor="middle" textLength="17" lengthAdjust="spacingAndGlyphs" stroke="#000" stroke-width="0.15">G-L</text>
<rect x="652.3" y="278.3" width="9.4" height="7.7" fill="#FA9088" stroke="#999" stroke-width="0.5"/>
<rect x="652.3" y="292.2" width="9.4" height="7.8" fill="#00D2D8" stroke="#999" stroke-width="0.5"/>
<text x="670.8" y="286.4" font-size="12.5" text-anchor="middle" style="font-family:'DejaVu Sans',sans-serif">♀</text>
<text x="671.2" y="299.6" font-size="12.5" text-anchor="middle" style="font-family:'DejaVu Sans',sans-serif">♂</text>
<defs><linearGradient id="hg" x1="0" y1="0" x2="0" y2="1"><stop offset="0" stop-color="#FF0000"/><stop offset="0.5" stop-color="#FFFFFF"/><stop offset="1" stop-color="#0000FF"/></linearGradient></defs>
<rect x="658.9" y="318.6" width="6.7" height="74.9" fill="url(#hg)"/>
<text x="667.3" y="321.8" font-size="8" textLength="4" lengthAdjust="spacingAndGlyphs">2</text>
<text x="667.3" y="358.2" font-size="8" textLength="4" lengthAdjust="spacingAndGlyphs">1</text>
<text x="667.3" y="395.3" font-size="8" textLength="4" lengthAdjust="spacingAndGlyphs">0</text>
</g>
<g id="panel_d">
<path d="M22.4 643.9V690.1M19.4 643.9H22.4M19.4 655.45H22.4M19.4 667H22.4M19.4 678.55H22.4M19.4 690.1H22.4" stroke="#000" stroke-width="1.25" fill="none" stroke-linecap="square"/>
<text x="18.2" y="645.6" font-size="4.4" class="s" text-anchor="end" textLength="7.5" lengthAdjust="spacingAndGlyphs" stroke="#000" stroke-width="0.2">50.0</text>
<text x="18.2" y="657.15" font-size="4.4" class="s" text-anchor="end" textLength="7.5" lengthAdjust="spacingAndGlyphs" stroke="#000" stroke-width="0.2">37.5</text>
<text x="18.2" y="668.7" font-size="4.4" class="s" text-anchor="end" textLength="7.5" lengthAdjust="spacingAndGlyphs" stroke="#000" stroke-width="0.2">25.0</text>
<text x="18.2" y="680.25" font-size="4.4" class="s" text-anchor="end" textLength="7.5" lengthAdjust="spacingAndGlyphs" stroke="#000" stroke-width="0.2">12.5</text>
<text x="7.3" y="668" font-size="4.2" class="s" text-anchor="middle" textLength="10.8" lengthAdjust="spacingAndGlyphs" transform="rotate(-90 7.3 668)" stroke="#000" stroke-width="0.2">TPM</text>
<text x="27.3" y="641.5" font-size="4.3" class="s n" fill="#FA8E84" textLength="31.2" lengthAdjust="spacingAndGlyphs" stroke="#FA8E84" stroke-width="0.2">Female_Antenna</text>
<line x1="23.5" y1="690.1" x2="299" y2="690.1" stroke="#FDD0CB" stroke-width="0.5" />
<path d="M22.9 690.1L22.9 690.1L23.25 667.33L23.6 665.67L23.95 665.16L24.3 663.67L24.65 662.69L25 663.11L25.35 664.16L25.7 663.86L26.05 666.74L26.4 667.24L26.75 665.85L27.1 667.55L27.45 667.59L27.8 669.57L28.15 670.29L28.5 672.48L28.85 672.28L29.2 672.67L29.55 674.19L29.9 674.02L30.25 674.54L30.6 676.35L30.95 674.87L31.3 674.47L31.65 674.37L32 674.23L32.35 671.32L32.7 671.37L33.05 671.67L33.4 672.18L33.75 673.17L34.1 672.87L34.45 674.32L34.8 672.7L35.15 672.76L35.5 670.78L35.85 670.12L36.2 671.2L36.55 670.31L36.9 668.67L37.25 664.93L37.6 664.25L37.95 662.47L38.3 661.93L38.65 660.83L39 690.1L39.35 690.1L39.7 690.1L40.05 676.87L40.4 663.08L40.75 661.86L41.1 661.41L41.45 660.67L41.8 661.23L42.15 660.66L42.5 660.86L42.85 660.57L43.2 661.36L43.55 667.33L43.9 690.1L44.25 690.1L44.6 690.1L44.95 690.1L45.3 690.1L45.65 690.1L46 674.57L46.35 666.43L46.7 665.8L47.05 666.01L47.4 666.19L47.75 667.92L48.1 666.95L48.45 668.1L48.8 669.32L49.15 685.9L49.5 690.1L49.85 690.1L50.2 669.65L50.55 671.34L50.9 675.51L51.25 676.46L51.6 680.31L51.95 683.85L52.3 686.22L52.65 687.27L53 686.37L53 690.1ZM127.1 690.1L127.1 690.1L127.45 687.44L127.8 682.33L128.15 679.94L128.5 674.58L128.85 671.76L129.2 666.69L129.55 665.44L129.9 665.58L130.25 663.39L130.6 664.04L130.95 665.13L131.3 665.02L131.65 667.53L132 668.28L132.35 668.92L132.7 669.58L133.05 671.69L133.4 672.81L133.75 671.68L134.1 673.86L134.45 673.16L134.8 674.16L135.15 675.77L135.5 675.27L135.85 674.83L136.2 674.24L136.55 674.06L136.9 673.85L137.25 673.41L137.6 672.34L137.95 672.88L138.3 672.56L138.65 671.36L139 672.01L139.35 671.36L139.7 669.23L140.05 669.82L140.4 669.26L140.75 670.05L141.1 668.58L141.45 667.69L141.8 668.53L142.15 666.6L142.5 666.06L142.85 666.94L143.2 665.08L143.55 674.56L143.9 690.1L144.25 690.1L144.6 690.1L144.95 690.1L145.3 660.67L145.65 661.12L146 659.93L146.35 659.51L146.7 660.89L147.05 660.46L147.4 658.65L147.75 657.62L148.1 658.99L148.45 663.54L148.8 690.1L149.15 690.1L149.5 690.1L149.85 690.1L150.2 690.1L150.55 690.1L150.9 690.1L151.25 658.75L151.6 658.51L151.95 657.51L152.3 657.84L152.65 658.73L153 659.22L153.35 660.96L153.7 661.81L154.05 675.45L154.4 690.1L154.75 690.1L155.1 690.1L155.45 667.08L155.8 668.88L156.15 671.58L156.5 675.7L156.85 679.01L157.2 680.71L157.55 685.16L157.9 688.28L158.2 690.1ZM250 690.1L250 689.83L250.5 689.66L251 690.04L251.5 689.9L252 689.89L252.5 689.57L253 689.82L253.5 689.56L254 689.99L254.5 689.89L255 689.69L255.5 689.54L256 689.82L256.5 689.96L257 690.02L257.5 689.77L258 689.98L258.5 689.59L259 689.57L259.5 689.98L260 689.92L260.5 689.59L261 689.7L261.5 689.59L262 689.88L262.5 690.02L263 689.92L263.5 689.6L264 689.93L264.5 689.88L265 689.84L265.5 689.84L266 689.84L266.5 689.52L267 687.88L267.5 688.2L268 685.58L268.5 685.67L269 685.3L269.5 686.71L270 685.23L270.5 685.21L271 687.03L271.5 685.53L272 685.2L272.5 685.58L273 685.89L273.5 686.42L274 686.2L274.5 686.42L275 686.77L275.5 685.28L276 686.01L276.5 684.51L277 686.49L277.5 684.09L278 684.57L278.5 683.86L279 683.85L279.5 683.76L280 684.55L280.5 685.99L281 683.93L281.5 685.39L282 684.96L282.5 683.89L283 685.6L283.5 685.6L284 685.6L284.5 690.1L285 690.1L285.5 690.1L286 681.51L286.5 681.71L287 680.76L287.5 681.35L288 681.84L288.5 682L289 690.1L289.5 690.1L290 690.1L290.5 690.1L291 690.1L291.5 690.1L292 690.1L292.5 690.1L293 690.1L293.5 690.1L294 690.1L294.5 690.1L295 690.1L295.5 690.1L296 690.1L296.5 690.1L297 690.1L297.5 690.1L298 690.1L298.2 690.1Z" fill="#FA8E84"/>
<path d="M289.1 690.1V698.29A1.7 2.21 0 0 0 292.5 698.29V690.1" fill="none" stroke="#FA8E84" stroke-width="0.8"/>
<path d="M36.9 690.1V699.93A1.9 2.47 0 0 0 40.7 699.93V690.1ZM43.1 690.1V699.73A1.9 2.47 0 0 0 46.9 699.73V690.1ZM47.9 690.1V700.09A1.7 2.21 0 0 0 51.3 700.09V690.1ZM142.8 690.1V700.32A1.6 2.08 0 0 0 146 700.32V690.1ZM148 690.1V700.39A1.7 2.21 0 0 0 151.4 700.39V690.1ZM153 690.1V700.32A1.6 2.08 0 0 0 156.2 700.32V690.1ZM284.1 690.1V698.73A0.9 1.17 0 0 0 285.9 698.73V690.1ZM295.1 690.1V698.43A0.9 1.17 0 0 0 296.9 698.43V690.1Z" fill="#FA8E84"/>
<path d="M293 690.1V679.75M294.6 690.1V680.65M297.6 690.1V682M298.4 690.1V685.6" fill="none" stroke="#FA8E84" stroke-width="0.7"/>
<text x="36.9" y="706.9" font-size="4.6" class="s" text-anchor="middle" textLength="5.5" lengthAdjust="spacingAndGlyphs" stroke="#000" stroke-width="0.15">210</text>
<text x="45.5" y="706.9" font-size="4.6" class="s" text-anchor="middle" textLength="5.5" lengthAdjust="spacingAndGlyphs" stroke="#000" stroke-width="0.15">188</text>
<text x="52.2" y="706.9" font-size="4.6" class="s" text-anchor="middle" textLength="5.5" lengthAdjust="spacingAndGlyphs" stroke="#000" stroke-width="0.15">196</text>
<text x="143.2" y="706.9" font-size="4.6" class="s" text-anchor="middle" textLength="5.5" lengthAdjust="spacingAndGlyphs" stroke="#000" stroke-width="0.15">197</text>
<text x="149.8" y="706.9" font-size="4.6" class="s" text-anchor="middle" textLength="5.5" lengthAdjust="spacingAndGlyphs" stroke="#000" stroke-width="0.15">252</text>
<text x="156.8" y="706.9" font-size="4.6" class="s" text-anchor="middle" textLength="5.5" lengthAdjust="spacingAndGlyphs" stroke="#000" stroke-width="0.15">181</text>
<text x="283.8" y="706.9" font-size="4.6" class="s" text-anchor="middle" textLength="5.5" lengthAdjust="spacingAndGlyphs" stroke="#000" stroke-width="0.15">62</text>
<text x="291.2" y="706.9" font-size="4.6" class="s" text-anchor="middle" textLength="5.5" lengthAdjust="spacingAndGlyphs" stroke="#000" stroke-width="0.15">34</text>
<text x="297.4" y="706.9" font-size="4.6" class="s" text-anchor="middle" textLength="5.5" lengthAdjust="spacingAndGlyphs" stroke="#000" stroke-width="0.15">36</text>
<path d="M41.4 664C50 640 120 642.5 135 645C146 647 149.5 650 149.8 662" fill="none" stroke="#FA8E84" stroke-width="1.1"/>
<text x="116" y="643.6" font-size="3.6" class="s" text-anchor="middle" textLength="3.6" lengthAdjust="spacingAndGlyphs" stroke="#000" stroke-width="0.15">76</text>
<path d="M42.6 664C52 647 120 648 133 650.5C144 653 147.5 656 148 664" fill="none" stroke="#FA8E84" stroke-width="0.7"/>
<text x="94.7" y="652.6" font-size="3.6" class="s" text-anchor="middle" textLength="3.6" lengthAdjust="spacingAndGlyphs" stroke="#000" stroke-width="0.15">21</text>
<path d="M46 668C60 665.8 120 666 147 667" fill="none" stroke="#FA8E84" stroke-width="0.6"/>
<path d="M149.8 660C150.5 650 160 648.5 170 649.3C215 652 285 668 293 681" fill="none" stroke="#FA8E84" stroke-width="1.1"/>
<text x="196.5" y="650.4" font-size="3.6" class="s" text-anchor="middle" textLength="3.6" lengthAdjust="spacingAndGlyphs" stroke="#000" stroke-width="0.15">62</text>
<path d="M156.3 673C160 666 175 666.3 190 666.6C230 668 272 675 281 686.5" fill="none" stroke="#FA8E84" stroke-width="0.6"/>
<text x="159.5" y="665.6" font-size="3.6" class="s" text-anchor="middle" textLength="3.6" lengthAdjust="spacingAndGlyphs" stroke="#000" stroke-width="0.15">21</text>
<path d="M156.8 676C161 668.5 176 668.3 190 668.6C230 670 276 677 286.5 686.5" fill="none" stroke="#FA8E84" stroke-width="0.5"/>
<text x="226.5" y="668.6" font-size="3.6" class="s" text-anchor="middle" textLength="1.8" lengthAdjust="spacingAndGlyphs" stroke="#000" stroke-width="0.15">8</text>
<path d="M22.4 724.6V770.3M19.4 724.6H22.4M19.4 736.02H22.4M19.4 747.45H22.4M19.4 758.88H22.4M19.4 770.3H22.4" stroke="#000" stroke-width="1.25" fill="none" stroke-linecap="square"/>
<text x="18.2" y="726.3" font-size="4.4" class="s" text-anchor="end" textLength="7.5" lengthAdjust="spacingAndGlyphs" stroke="#000" stroke-width="0.2">50.0</text>
<text x="18.2" y="737.73" font-size="4.4" class="s" text-anchor="end" textLength="7.5" lengthAdjust="spacingAndGlyphs" stroke="#000" stroke-width="0.2">37.5</text>
<text x="18.2" y="749.15" font-size="4.4" class="s" text-anchor="end" textLength="7.5" lengthAdjust="spacingAndGlyphs" stroke="#000" stroke-width="0.2">25.0</text>
<text x="18.2" y="760.58" font-size="4.4" class="s" text-anchor="end" textLength="7.5" lengthAdjust="spacingAndGlyphs" stroke="#000" stroke-width="0.2">12.5</text>
<text x="7.3" y="748.45" font-size="4.2" class="s" text-anchor="middle" textLength="10.8" lengthAdjust="spacingAndGlyphs" transform="rotate(-90 7.3 748.45)" stroke="#000" stroke-width="0.2">TPM</text>
<text x="27.3" y="722.2" font-size="4.3" class="s n" fill="#12D0D6" textLength="26.6" lengthAdjust="spacingAndGlyphs" stroke="#12D0D6" stroke-width="0.2">Male_Antenna</text>
<line x1="23.5" y1="770.3" x2="299" y2="770.3" stroke="#A8F0F2" stroke-width="0.5" />
<path d="M22.9 770.3L22.9 770.3L23.25 747.11L23.6 747.29L23.95 745.82L24.3 746.11L24.65 745.73L25 745.6L25.35 745.84L25.7 748.3L26.05 747.72L26.4 748.33L26.75 749.32L27.1 749.91L27.45 752.51L27.8 751.65L28.15 751.73L28.5 754.32L28.85 753.91L29.2 753.36L29.55 752.17L29.9 751.86L30.25 751.19L30.6 749.9L30.95 751.2L31.3 750.84L31.65 751.26L32 751.85L32.35 752.58L32.7 751L33.05 751.88L33.4 754.32L33.75 753.91L34.1 754.09L34.45 753.69L34.8 753.2L35.15 752.08L35.5 751.82L35.85 751.96L36.2 751.96L36.55 751.1L36.9 751.02L37.25 749.41L37.6 748.45L37.95 748.69L38.3 748.84L38.65 759.67L39 770.3L39.35 770.3L39.7 770.3L40.05 755.15L40.4 743.14L40.75 741.29L41.1 740.83L41.45 738.4L41.8 737.96L42.15 738.95L42.5 739.63L42.85 739.86L43.2 739.9L43.55 741.11L43.9 755.18L44.25 770.3L44.6 770.3L44.95 770.3L45.3 770.3L45.65 770.3L46 761.93L46.35 747.63L46.7 744.86L47.05 744.53L47.4 746.08L47.75 745.29L48.1 745.34L48.45 744.3L48.8 744.22L49.15 764.35L49.5 770.3L49.85 770.3L50.2 748.69L50.55 751.55L50.9 755.43L51.25 757.55L51.6 760.97L51.95 761.91L52.3 764.82L52.65 766.82L53 766.12L53 770.3ZM127.1 770.3L127.1 770.3L127.45 765.73L127.8 761.41L128.15 757.65L128.5 754.59L128.85 749.26L129.2 746.49L129.55 744.04L129.9 740.41L130.25 740.04L130.6 737.81L130.95 735.68L131.3 731.69L131.65 735.36L132 737.72L132.35 737.75L132.7 741.47L133.05 742.03L133.4 745.14L133.75 747.45L134.1 749.87L134.45 752.46L134.8 752.28L135.15 754.46L135.5 753.06L135.85 754.02L136.2 753.88L136.55 755.66L136.9 754.2L137.25 753.84L137.6 756.02L137.95 755.47L138.3 754.98L138.65 754.43L139 755.92L139.35 756.16L139.7 754.61L140.05 752.1L140.4 750.15L140.75 749.39L141.1 748.05L141.45 746.62L141.8 745.37L142.15 743.85L142.5 743.3L142.85 740.94L143.2 738.44L143.55 748.46L143.9 770.3L144.25 770.3L144.6 770.3L144.95 770.3L145.3 743.71L145.65 742.46L146 738.54L146.35 735.74L146.7 733.28L147.05 733.8L147.4 734.02L147.75 733.78L148.1 733.31L148.45 757.64L148.8 770.3L149.15 770.3L149.5 770.3L149.85 770.3L150.2 770.3L150.55 770.3L150.9 759.94L151.25 735L151.6 732.94L151.95 733.55L152.3 735.11L152.65 735.83L153 738.5L153.35 739.68L153.7 741.23L154.05 755.59L154.4 770.3L154.75 770.3L155.1 763.41L155.45 749.69L155.8 750.34L156.15 751.64L156.5 756.22L156.85 758.24L157.2 761.94L157.55 763.65L157.9 765.7L158.25 767.86L158.6 768.7L158.95 770.1L159 770.3ZM250 770.3L250 770.18L250.5 770.29L251 770.03L251.5 770.09L252 770.2L252.5 770.1L253 770.12L253.5 769.87L254 770.22L254.5 769.74L255 770.03L255.5 769.96L256 770.04L256.5 769.83L257 769.84L257.5 769.99L258 770.03L258.5 769.9L259 769.82L259.5 770.08L260 769.89L260.5 769.76L261 770.04L261.5 770.17L262 770.17L262.5 769.9L263 769.92L263.5 769.76L264 769.82L264.5 770.16L265 770.19L265.5 770.16L266 770.2L266.5 769.91L267 766.64L267.5 766.47L268 767.94L268.5 766.4L269 767.65L269.5 767.31L270 766.5L270.5 767.97L271 767.88L271.5 766.02L272 767.25L272.5 767.02L273 766.41L273.5 766.1L274 767.63L274.5 766.77L275 766.45L275.5 766.26L276 766.85L276.5 765.87L277 764.91L277.5 766.19L278 765.74L278.5 766.69L279 766.24L279.5 765.23L280 766.48L280.5 764.55L281 764.42L281.5 766.29L282 764.19L282.5 765.48L283 766.3L283.5 766.3L284 766.3L284.5 770.3L285 770.3L285.5 770.3L286 762.26L286.5 762.29L287 763.03L287.5 762.42L288 762.45L288.5 762.21L289 770.3L289.5 770.3L290 770.3L290.5 770.3L291 770.3L291.5 770.3L292 770.3L292.5 770.3L293 770.3L293.5 770.3L294 770.3L294.5 770.3L295 770.3L295.5 770.3L296 770.3L296.5 770.3L297 770.3L297.5 770.3L298 770.3L298.2 770.3Z" fill="#12D0D6"/>
<path d="M289.1 770.3V780.69A1.7 2.21 0 0 0 292.5 780.69V770.3" fill="none" stroke="#12D0D6" stroke-width="0.8"/>
<path d="M43.1 770.3V780.13A1.9 2.47 0 0 0 46.9 780.13V770.3ZM142.8 770.3V781.72A1.6 2.08 0 0 0 146 781.72V770.3ZM148 770.3V781.59A1.7 2.21 0 0 0 151.4 781.59V770.3ZM153 770.3V781.72A1.6 2.08 0 0 0 156.2 781.72V770.3ZM284.1 770.3V781.13A0.9 1.17 0 0 0 285.9 781.13V770.3ZM295.1 770.3V781.13A0.9 1.17 0 0 0 296.9 781.13V770.3Z" fill="#12D0D6"/>
<path d="M293 770.3V761.1M294.6 770.3V761.9M297.6 770.3V763.1M298.4 770.3V766.3" fill="none" stroke="#12D0D6" stroke-width="0.7"/>
<text x="37.4" y="787" font-size="4.6" class="s" text-anchor="middle" textLength="5.5" lengthAdjust="spacingAndGlyphs" stroke="#000" stroke-width="0.15">186</text>
<text x="44.2" y="787" font-size="4.6" class="s" text-anchor="middle" textLength="5.5" lengthAdjust="spacingAndGlyphs" stroke="#000" stroke-width="0.15">171</text>
<text x="51.2" y="787" font-size="4.6" class="s" text-anchor="middle" textLength="5.5" lengthAdjust="spacingAndGlyphs" stroke="#000" stroke-width="0.15">194</text>
<text x="143" y="787" font-size="4.6" class="s" text-anchor="middle" textLength="5.5" lengthAdjust="spacingAndGlyphs" stroke="#000" stroke-width="0.15">246</text>
<text x="149.6" y="787" font-size="4.6" class="s" text-anchor="middle" textLength="5.5" lengthAdjust="spacingAndGlyphs" stroke="#000" stroke-width="0.15">275</text>
<text x="156.4" y="787" font-size="4.6" class="s" text-anchor="middle" textLength="5.5" lengthAdjust="spacingAndGlyphs" stroke="#000" stroke-width="0.15">175</text>
<text x="284.3" y="787" font-size="4.6" class="s" text-anchor="middle" textLength="5.5" lengthAdjust="spacingAndGlyphs" stroke="#000" stroke-width="0.15">38</text>
<text x="290.9" y="787" font-size="4.6" class="s" text-anchor="middle" textLength="5.5" lengthAdjust="spacingAndGlyphs" stroke="#000" stroke-width="0.15">71</text>
<text x="296.3" y="787" font-size="4.6" class="s" text-anchor="middle" textLength="5.5" lengthAdjust="spacingAndGlyphs" stroke="#000" stroke-width="0.15">55</text>
<path d="M41.4 738C50 716 120 717 135 718.5C146 720 150.3 723 150.6 734" fill="none" stroke="#12D0D6" stroke-width="1.8"/>
<text x="130.3" y="718" font-size="3.6" class="s" text-anchor="middle" textLength="5.4" lengthAdjust="spacingAndGlyphs" stroke="#000" stroke-width="0.15">101</text>
<path d="M42.4 741C52 720 120 721.5 134 723C145 725 149 728 149.4 738" fill="none" stroke="#12D0D6" stroke-width="1.3"/>
<text x="112.5" y="725.6" font-size="3.6" class="s" text-anchor="middle" textLength="3.6" lengthAdjust="spacingAndGlyphs" stroke="#000" stroke-width="0.15">91</text>
<path d="M46 747C60 745.2 120 745 150 745.6" fill="none" stroke="#12D0D6" stroke-width="0.6"/>
<path d="M148.9 733C149.5 727.5 158 726.8 168 727.6C215 731 285 748 294.2 761.5" fill="none" stroke="#12D0D6" stroke-width="1.2"/>
<text x="220.6" y="732.6" font-size="3.6" class="s" text-anchor="middle" textLength="3.6" lengthAdjust="spacingAndGlyphs" stroke="#000" stroke-width="0.15">43</text>
<path d="M156 750C160 745 175 745.2 190 745.5C230 747 272 753 283.7 766.5" fill="none" stroke="#12D0D6" stroke-width="0.6"/>
<text x="162.5" y="745.6" font-size="3.6" class="s" text-anchor="middle" textLength="3.6" lengthAdjust="spacingAndGlyphs" stroke="#000" stroke-width="0.15">12</text>
<path d="M156.6 756C161 748 176 748 190 748.3C230 750 277 757 288 766.5" fill="none" stroke="#12D0D6" stroke-width="0.5"/>
<text x="226.5" y="746.8" font-size="3.6" class="s" text-anchor="middle" textLength="3.6" lengthAdjust="spacingAndGlyphs" stroke="#000" stroke-width="0.15">17</text>
<path d="M22.6 793.5V790.8H297.6V794.2" stroke="#000" stroke-width="1.1" fill="none"/>
<text x="91.6" y="801.7" font-size="9.4" textLength="127.7" lengthAdjust="spacingAndGlyphs">Genome location (chr4 #76Mb ~14Kb)</text>
<path d="M35.1 807.5V812.6M33.8 811.2L35.1 812.9L36.4 811.2" stroke="#000" stroke-width="1.15" fill="none"/>
<path d="M143.6 807.5V812.6M142.3 811.2L143.6 812.9L144.9 811.2" stroke="#000" stroke-width="1.15" fill="none"/>
<path d="M287.6 807.5V812.6M286.3 811.2L287.6 812.9L288.9 811.2" stroke="#000" stroke-width="1.15" fill="none"/>
<text x="25.1" y="820.8" font-size="6.9" class="s" font-style="italic" textLength="28.9" lengthAdjust="spacingAndGlyphs" stroke="#000" stroke-width="0.12">BdorOR88a-v1</text>
<text x="132.3" y="820.8" font-size="6.9" class="s" font-style="italic" textLength="32" lengthAdjust="spacingAndGlyphs" stroke="#000" stroke-width="0.12">BdorOR88a-v2</text>
<text x="273.4" y="822" font-size="6.9" class="s" font-style="italic" textLength="32" lengthAdjust="spacingAndGlyphs" stroke="#000" stroke-width="0.12">BdorOR88a-v3</text>
<line x1="20.59" y1="828.9" x2="49.71" y2="828.9" stroke="#7B70C4" stroke-width="0.6" />
<rect x="20.59" y="827.2" width="17.07" height="3.4" fill="#7B70C4"/>
<rect x="38.92" y="827.3" width="3.26" height="3.2" fill="#7B70C4"/>
<path d="M39.95 827.9l1.7 1l-1.7 1z" fill="#111"/>
<rect x="44.69" y="827.3" width="3.01" height="3.2" fill="#7B70C4"/>
<path d="M45.6 827.9l1.7 1l-1.7 1z" fill="#111"/>
<rect x="48.46" y="827.3" width="1.26" height="3.2" fill="#7B70C4"/>
<line x1="128.8" y1="828.9" x2="157.67" y2="828.9" stroke="#E0640A" stroke-width="0.6" />
<rect x="128.8" y="827.2" width="16.82" height="3.4" fill="#E0640A"/>
<rect x="146.87" y="827.3" width="3.77" height="3.2" fill="#E0640A"/>
<path d="M148.16 827.9l1.7 1l-1.7 1z" fill="#111"/>
<rect x="152.65" y="827.3" width="4.27" height="3.2" fill="#E0640A"/>
<path d="M154.18 827.9l1.7 1l-1.7 1z" fill="#111"/>
<line x1="272.3" y1="828.9" x2="302.5" y2="828.9" stroke="#1FA37C" stroke-width="0.6" />
<rect x="272.3" y="827.2" width="17.2" height="3.4" fill="#1FA37C"/>
<rect x="290.3" y="827.3" width="3.4" height="3.2" fill="#1FA37C"/>
<path d="M291.4 827.9l1.7 1l-1.7 1z" fill="#111"/>
<rect x="296.4" y="827.3" width="6.1" height="3.2" fill="#1FA37C"/>
<path d="M298.85 827.9l1.7 1l-1.7 1z" fill="#111"/>
<line x1="20.59" y1="841.4" x2="157.67" y2="841.4" stroke="#111" stroke-width="0.8" />
<path d="M23.59 840.15l2.2 1.25l-2.2 1.25zM29.19 840.15l2.2 1.25l-2.2 1.25zM34.79 840.15l2.2 1.25l-2.2 1.25zM40.39 840.15l2.2 1.25l-2.2 1.25zM45.99 840.15l2.2 1.25l-2.2 1.25zM51.59 840.15l2.2 1.25l-2.2 1.25zM57.19 840.15l2.2 1.25l-2.2 1.25zM62.79 840.15l2.2 1.25l-2.2 1.25zM68.39 840.15l2.2 1.25l-2.2 1.25zM73.99 840.15l2.2 1.25l-2.2 1.25zM79.59 840.15l2.2 1.25l-2.2 1.25zM85.19 840.15l2.2 1.25l-2.2 1.25zM90.79 840.15l2.2 1.25l-2.2 1.25zM96.39 840.15l2.2 1.25l-2.2 1.25zM101.99 840.15l2.2 1.25l-2.2 1.25zM107.59 840.15l2.2 1.25l-2.2 1.25zM113.19 840.15l2.2 1.25l-2.2 1.25zM118.79 840.15l2.2 1.25l-2.2 1.25zM124.39 840.15l2.2 1.25l-2.2 1.25zM129.99 840.15l2.2 1.25l-2.2 1.25zM135.59 840.15l2.2 1.25l-2.2 1.25zM141.19 840.15l2.2 1.25l-2.2 1.25zM146.79 840.15l2.2 1.25l-2.2 1.25zM152.39 840.15l2.2 1.25l-2.2 1.25z" fill="#111"/>
<rect x="20.59" y="839.7" width="17.07" height="3.4" fill="#7B70C4"/>
<rect x="38.92" y="839.8" width="3.77" height="3.2" fill="#7B70C4"/>
<path d="M40.2 840.4l1.7 1l-1.7 1z" fill="#111"/>
<rect x="152.65" y="839.8" width="4.52" height="3.2" fill="#E0640A"/>
<path d="M154.31 840.4l1.7 1l-1.7 1z" fill="#111"/>
<circle cx="3.8" cy="841.4" r="4" fill="#F26A2A" />
<circle cx="11.8" cy="841.4" r="4" fill="#A00A6E" />
<line x1="20.59" y1="857" x2="157.67" y2="857" stroke="#111" stroke-width="0.8" />
<path d="M23.59 855.75l2.2 1.25l-2.2 1.25zM29.19 855.75l2.2 1.25l-2.2 1.25zM34.79 855.75l2.2 1.25l-2.2 1.25zM40.39 855.75l2.2 1.25l-2.2 1.25zM45.99 855.75l2.2 1.25l-2.2 1.25zM51.59 855.75l2.2 1.25l-2.2 1.25zM57.19 855.75l2.2 1.25l-2.2 1.25zM62.79 855.75l2.2 1.25l-2.2 1.25zM68.39 855.75l2.2 1.25l-2.2 1.25zM73.99 855.75l2.2 1.25l-2.2 1.25zM79.59 855.75l2.2 1.25l-2.2 1.25zM85.19 855.75l2.2 1.25l-2.2 1.25zM90.79 855.75l2.2 1.25l-2.2 1.25zM96.39 855.75l2.2 1.25l-2.2 1.25zM101.99 855.75l2.2 1.25l-2.2 1.25zM107.59 855.75l2.2 1.25l-2.2 1.25zM113.19 855.75l2.2 1.25l-2.2 1.25zM118.79 855.75l2.2 1.25l-2.2 1.25zM124.39 855.75l2.2 1.25l-2.2 1.25zM129.99 855.75l2.2 1.25l-2.2 1.25zM135.59 855.75l2.2 1.25l-2.2 1.25zM141.19 855.75l2.2 1.25l-2.2 1.25zM146.79 855.75l2.2 1.25l-2.2 1.25zM152.39 855.75l2.2 1.25l-2.2 1.25z" fill="#111"/>
<rect x="20.59" y="855.3" width="17.07" height="3.4" fill="#7B70C4"/>
<rect x="38.92" y="855.4" width="3.26" height="3.2" fill="#7B70C4"/>
<path d="M39.95 856l1.7 1l-1.7 1z" fill="#111"/>
<rect x="44.69" y="855.4" width="3.01" height="3.2" fill="#7B70C4"/>
<path d="M45.6 856l1.7 1l-1.7 1z" fill="#111"/>
<rect x="156.41" y="855.4" width="1.26" height="3.2" fill="#E0640A"/>
<circle cx="8.3" cy="857" r="3.8" fill="#F26A2A" />
<line x1="20.59" y1="869.8" x2="157.67" y2="869.8" stroke="#111" stroke-width="0.8" />
<path d="M23.59 868.55l2.2 1.25l-2.2 1.25zM29.19 868.55l2.2 1.25l-2.2 1.25zM34.79 868.55l2.2 1.25l-2.2 1.25zM40.39 868.55l2.2 1.25l-2.2 1.25zM45.99 868.55l2.2 1.25l-2.2 1.25zM51.59 868.55l2.2 1.25l-2.2 1.25zM57.19 868.55l2.2 1.25l-2.2 1.25zM62.79 868.55l2.2 1.25l-2.2 1.25zM68.39 868.55l2.2 1.25l-2.2 1.25zM73.99 868.55l2.2 1.25l-2.2 1.25zM79.59 868.55l2.2 1.25l-2.2 1.25zM85.19 868.55l2.2 1.25l-2.2 1.25zM90.79 868.55l2.2 1.25l-2.2 1.25zM96.39 868.55l2.2 1.25l-2.2 1.25zM101.99 868.55l2.2 1.25l-2.2 1.25zM107.59 868.55l2.2 1.25l-2.2 1.25zM113.19 868.55l2.2 1.25l-2.2 1.25zM118.79 868.55l2.2 1.25l-2.2 1.25zM124.39 868.55l2.2 1.25l-2.2 1.25zM129.99 868.55l2.2 1.25l-2.2 1.25zM135.59 868.55l2.2 1.25l-2.2 1.25zM141.19 868.55l2.2 1.25l-2.2 1.25zM146.79 868.55l2.2 1.25l-2.2 1.25zM152.39 868.55l2.2 1.25l-2.2 1.25z" fill="#111"/>
<rect x="20.59" y="868.1" width="16.57" height="3.4" fill="#7B70C4"/>
<rect x="146.37" y="868.2" width="3.77" height="3.2" fill="#E0640A"/>
<path d="M147.66 868.8l1.7 1l-1.7 1z" fill="#111"/>
<rect x="152.65" y="868.2" width="4.52" height="3.2" fill="#E0640A"/>
<path d="M154.31 868.8l1.7 1l-1.7 1z" fill="#111"/>
<circle cx="7" cy="869.8" r="3.8" fill="#F26A2A" />
<line x1="19.58" y1="881.6" x2="157.67" y2="881.6" stroke="#111" stroke-width="0.8" />
<path d="M22.58 880.35l2.2 1.25l-2.2 1.25zM28.18 880.35l2.2 1.25l-2.2 1.25zM33.78 880.35l2.2 1.25l-2.2 1.25zM39.38 880.35l2.2 1.25l-2.2 1.25zM44.98 880.35l2.2 1.25l-2.2 1.25zM50.58 880.35l2.2 1.25l-2.2 1.25zM56.18 880.35l2.2 1.25l-2.2 1.25zM61.78 880.35l2.2 1.25l-2.2 1.25zM67.38 880.35l2.2 1.25l-2.2 1.25zM72.98 880.35l2.2 1.25l-2.2 1.25zM78.58 880.35l2.2 1.25l-2.2 1.25zM84.18 880.35l2.2 1.25l-2.2 1.25zM89.78 880.35l2.2 1.25l-2.2 1.25zM95.38 880.35l2.2 1.25l-2.2 1.25zM100.98 880.35l2.2 1.25l-2.2 1.25zM106.58 880.35l2.2 1.25l-2.2 1.25zM112.18 880.35l2.2 1.25l-2.2 1.25zM117.78 880.35l2.2 1.25l-2.2 1.25zM123.38 880.35l2.2 1.25l-2.2 1.25zM128.98 880.35l2.2 1.25l-2.2 1.25zM134.58 880.35l2.2 1.25l-2.2 1.25zM140.18 880.35l2.2 1.25l-2.2 1.25zM145.78 880.35l2.2 1.25l-2.2 1.25zM151.38 880.35l2.2 1.25l-2.2 1.25z" fill="#111"/>
<rect x="20.59" y="879.9" width="17.07" height="3.4" fill="#7B70C4"/>
<rect x="38.92" y="880" width="2.51" height="3.2" fill="#7B70C4"/>
<path d="M39.57 880.6l1.7 1l-1.7 1z" fill="#111"/>
<rect x="149.38" y="880" width="1.26" height="3.2" fill="#E0640A"/>
<rect x="152.65" y="880" width="4.52" height="3.2" fill="#E0640A"/>
<path d="M154.31 880.6l1.7 1l-1.7 1z" fill="#111"/>
<circle cx="6.8" cy="881.6" r="3.8" fill="#A00A6E" />
<line x1="20.59" y1="895.4" x2="302.5" y2="895.4" stroke="#111" stroke-width="0.8" />
<path d="M23.59 894.15l2.2 1.25l-2.2 1.25zM29.19 894.15l2.2 1.25l-2.2 1.25zM34.79 894.15l2.2 1.25l-2.2 1.25zM40.39 894.15l2.2 1.25l-2.2 1.25zM45.99 894.15l2.2 1.25l-2.2 1.25zM51.59 894.15l2.2 1.25l-2.2 1.25zM57.19 894.15l2.2 1.25l-2.2 1.25zM62.79 894.15l2.2 1.25l-2.2 1.25zM68.39 894.15l2.2 1.25l-2.2 1.25zM73.99 894.15l2.2 1.25l-2.2 1.25zM79.59 894.15l2.2 1.25l-2.2 1.25zM85.19 894.15l2.2 1.25l-2.2 1.25zM90.79 894.15l2.2 1.25l-2.2 1.25zM96.39 894.15l2.2 1.25l-2.2 1.25zM101.99 894.15l2.2 1.25l-2.2 1.25zM107.59 894.15l2.2 1.25l-2.2 1.25zM113.19 894.15l2.2 1.25l-2.2 1.25zM118.79 894.15l2.2 1.25l-2.2 1.25zM124.39 894.15l2.2 1.25l-2.2 1.25zM129.99 894.15l2.2 1.25l-2.2 1.25zM135.59 894.15l2.2 1.25l-2.2 1.25zM141.19 894.15l2.2 1.25l-2.2 1.25zM146.79 894.15l2.2 1.25l-2.2 1.25zM152.39 894.15l2.2 1.25l-2.2 1.25zM157.99 894.15l2.2 1.25l-2.2 1.25zM163.59 894.15l2.2 1.25l-2.2 1.25zM169.19 894.15l2.2 1.25l-2.2 1.25zM174.79 894.15l2.2 1.25l-2.2 1.25zM180.39 894.15l2.2 1.25l-2.2 1.25zM185.99 894.15l2.2 1.25l-2.2 1.25zM191.59 894.15l2.2 1.25l-2.2 1.25zM197.19 894.15l2.2 1.25l-2.2 1.25zM202.79 894.15l2.2 1.25l-2.2 1.25zM208.39 894.15l2.2 1.25l-2.2 1.25zM213.99 894.15l2.2 1.25l-2.2 1.25zM219.59 894.15l2.2 1.25l-2.2 1.25zM225.19 894.15l2.2 1.25l-2.2 1.25zM230.79 894.15l2.2 1.25l-2.2 1.25zM236.39 894.15l2.2 1.25l-2.2 1.25zM241.99 894.15l2.2 1.25l-2.2 1.25zM247.59 894.15l2.2 1.25l-2.2 1.25zM253.19 894.15l2.2 1.25l-2.2 1.25zM258.79 894.15l2.2 1.25l-2.2 1.25zM264.39 894.15l2.2 1.25l-2.2 1.25zM269.99 894.15l2.2 1.25l-2.2 1.25zM275.59 894.15l2.2 1.25l-2.2 1.25zM281.19 894.15l2.2 1.25l-2.2 1.25zM286.79 894.15l2.2 1.25l-2.2 1.25zM292.39 894.15l2.2 1.25l-2.2 1.25zM297.99 894.15l2.2 1.25l-2.2 1.25z" fill="#111"/>
<rect x="20.59" y="893.7" width="11.55" height="3.4" fill="#7B70C4"/>
<rect x="284.5" y="893.8" width="4.5" height="3.2" fill="#1FA37C"/>
<path d="M286.15 894.4l1.7 1l-1.7 1z" fill="#111"/>
<rect x="290" y="893.8" width="3.7" height="3.2" fill="#1FA37C"/>
<path d="M291.25 894.4l1.7 1l-1.7 1z" fill="#111"/>
<rect x="297.3" y="893.8" width="4.9" height="3.2" fill="#1FA37C"/>
<path d="M299.15 894.4l1.7 1l-1.7 1z" fill="#111"/>
<circle cx="7" cy="895.4" r="3.8" fill="#A00A6E" />
<line x1="128.8" y1="908.5" x2="302" y2="908.5" stroke="#111" stroke-width="0.8" />
<path d="M131.8 907.25l2.2 1.25l-2.2 1.25zM137.4 907.25l2.2 1.25l-2.2 1.25zM143 907.25l2.2 1.25l-2.2 1.25zM148.6 907.25l2.2 1.25l-2.2 1.25zM154.2 907.25l2.2 1.25l-2.2 1.25zM159.8 907.25l2.2 1.25l-2.2 1.25zM165.4 907.25l2.2 1.25l-2.2 1.25zM171 907.25l2.2 1.25l-2.2 1.25zM176.6 907.25l2.2 1.25l-2.2 1.25zM182.2 907.25l2.2 1.25l-2.2 1.25zM187.8 907.25l2.2 1.25l-2.2 1.25zM193.4 907.25l2.2 1.25l-2.2 1.25zM199 907.25l2.2 1.25l-2.2 1.25zM204.6 907.25l2.2 1.25l-2.2 1.25zM210.2 907.25l2.2 1.25l-2.2 1.25zM215.8 907.25l2.2 1.25l-2.2 1.25zM221.4 907.25l2.2 1.25l-2.2 1.25zM227 907.25l2.2 1.25l-2.2 1.25zM232.6 907.25l2.2 1.25l-2.2 1.25zM238.2 907.25l2.2 1.25l-2.2 1.25zM243.8 907.25l2.2 1.25l-2.2 1.25zM249.4 907.25l2.2 1.25l-2.2 1.25zM255 907.25l2.2 1.25l-2.2 1.25zM260.6 907.25l2.2 1.25l-2.2 1.25zM266.2 907.25l2.2 1.25l-2.2 1.25zM271.8 907.25l2.2 1.25l-2.2 1.25zM277.4 907.25l2.2 1.25l-2.2 1.25zM283 907.25l2.2 1.25l-2.2 1.25zM288.6 907.25l2.2 1.25l-2.2 1.25zM294.2 907.25l2.2 1.25l-2.2 1.25zM299.8 907.25l2.2 1.25l-2.2 1.25z" fill="#111"/>
<rect x="128.8" y="906.8" width="16.82" height="3.4" fill="#E0640A"/>
<rect x="146.87" y="906.9" width="3.26" height="3.2" fill="#E0640A"/>
<path d="M147.91 907.5l1.7 1l-1.7 1z" fill="#111"/>
<rect x="297.3" y="906.9" width="4.9" height="3.2" fill="#1FA37C"/>
<path d="M299.15 907.5l1.7 1l-1.7 1z" fill="#111"/>
<circle cx="116" cy="908.5" r="3.8" fill="#A00A6E" />
<line x1="128.8" y1="929.8" x2="302" y2="929.8" stroke="#111" stroke-width="0.8" />
<path d="M131.8 928.55l2.2 1.25l-2.2 1.25zM137.4 928.55l2.2 1.25l-2.2 1.25zM143 928.55l2.2 1.25l-2.2 1.25zM148.6 928.55l2.2 1.25l-2.2 1.25zM154.2 928.55l2.2 1.25l-2.2 1.25zM159.8 928.55l2.2 1.25l-2.2 1.25zM165.4 928.55l2.2 1.25l-2.2 1.25zM171 928.55l2.2 1.25l-2.2 1.25zM176.6 928.55l2.2 1.25l-2.2 1.25zM182.2 928.55l2.2 1.25l-2.2 1.25zM187.8 928.55l2.2 1.25l-2.2 1.25zM193.4 928.55l2.2 1.25l-2.2 1.25zM199 928.55l2.2 1.25l-2.2 1.25zM204.6 928.55l2.2 1.25l-2.2 1.25zM210.2 928.55l2.2 1.25l-2.2 1.25zM215.8 928.55l2.2 1.25l-2.2 1.25zM221.4 928.55l2.2 1.25l-2.2 1.25zM227 928.55l2.2 1.25l-2.2 1.25zM232.6 928.55l2.2 1.25l-2.2 1.25zM238.2 928.55l2.2 1.25l-2.2 1.25zM243.8 928.55l2.2 1.25l-2.2 1.25zM249.4 928.55l2.2 1.25l-2.2 1.25zM255 928.55l2.2 1.25l-2.2 1.25zM260.6 928.55l2.2 1.25l-2.2 1.25zM266.2 928.55l2.2 1.25l-2.2 1.25zM271.8 928.55l2.2 1.25l-2.2 1.25zM277.4 928.55l2.2 1.25l-2.2 1.25zM283 928.55l2.2 1.25l-2.2 1.25zM288.6 928.55l2.2 1.25l-2.2 1.25zM294.2 928.55l2.2 1.25l-2.2 1.25zM299.8 928.55l2.2 1.25l-2.2 1.25z" fill="#111"/>
<rect x="128.8" y="927.9" width="16.82" height="3.8" fill="#E0640A"/>
<rect x="146.87" y="928.3" width="3.77" height="3" fill="#E0640A"/>
<path d="M148.16 928.8l1.7 1l-1.7 1z" fill="#111"/>
<rect x="151.9" y="928.3" width="3.26" height="3" fill="#E0640A"/>
<path d="M152.93 928.8l1.7 1l-1.7 1z" fill="#111"/>
<rect x="300.6" y="928.2" width="1.9" height="3.2" fill="#1FA37C"/>
<circle cx="116" cy="929.8" r="3.8" fill="#F26A2A" />
<circle cx="55.2" cy="954.4" r="3.5" fill="#F26A2A" />
<text x="69.8" y="957.7" font-size="12" textLength="77" lengthAdjust="spacingAndGlyphs" stroke="#000" stroke-width="0.15">supported by PCR</text>
<circle cx="194.4" cy="953.4" r="3.6" fill="#A00A6E" />
<text x="208.2" y="956.9" font-size="12" textLength="95.2" lengthAdjust="spacingAndGlyphs" stroke="#000" stroke-width="0.15">supported by RNA-seq</text>
<text x="2.5" y="626.3" font-size="18.2" textLength="9.8" lengthAdjust="spacingAndGlyphs">d</text>
</g>
<g id="panel_e">
<text x="327" y="654.7" font-size="18" textLength="7.3" lengthAdjust="spacingAndGlyphs">e</text>
<line x1="362.2" y1="671.9" x2="647.6" y2="671.9" stroke="#8C8C8C" stroke-width="0.8" />
<rect x="380.2" y="666.3" width="63.8" height="11.1" fill="#7B70C4"/>
<rect x="471.2" y="666.3" width="64" height="11.1" fill="#DC6408"/>
<rect x="560.7" y="666.3" width="64.1" height="11.1" fill="#1FA37C"/>
<text x="380.2" y="663.7" font-size="12.2" font-style="italic" textLength="67.4" lengthAdjust="spacingAndGlyphs">BdorOR88a-v1</text>
<text x="470.6" y="663.7" font-size="12.2" font-style="italic" textLength="67.4" lengthAdjust="spacingAndGlyphs">BdorOR88a-v2</text>
<text x="560.7" y="663.7" font-size="12.2" font-style="italic" textLength="66.9" lengthAdjust="spacingAndGlyphs">BdorOR88a-v3</text>
<text x="401.3" y="688.9" font-size="11.5" textLength="19.9" lengthAdjust="spacingAndGlyphs">-8bp</text>
<text x="489.8" y="688.9" font-size="11.5" textLength="26.8" lengthAdjust="spacingAndGlyphs">-13bp</text>
<text x="485.9" y="635.8" font-size="11.6" textLength="71.5" lengthAdjust="spacingAndGlyphs">CRISPR/Cas9</text>
<g><path d="M445.2 634.2L451 635.4L445.2 636.8" fill="none" stroke="#8A5AD0" stroke-width="0.6"/><ellipse cx="461.6" cy="635.6" rx="11.4" ry="6.5" fill="#1DB6EA" stroke="#1673B8" stroke-width="0.5"/><ellipse cx="466.4" cy="642.6" rx="6.3" ry="5" fill="#1DB6EA" stroke="#1673B8" stroke-width="0.5"/><ellipse cx="463" cy="637.6" rx="9" ry="4.6" fill="#1DB6EA"/><path d="M450.6 637H465" stroke="#2433C8" stroke-width="0.8"/><path d="M450.6 635H472" stroke="#7A52C8" stroke-width="0.45"/><path d="M466 635.6H472.5M467 639H471.5" stroke="#1E8A50" stroke-width="0.7"/><circle cx="466.6" cy="635.8" r="1" fill="#8CE070"/></g>
<path d="M441 643L431 649.8" stroke="#1F3B73" stroke-width="0.6"/><path d="M425.6 653.4L432.6 652.4L429.4 647.4Z" fill="#1F3B73"/>
<path d="M478.4 642L487 649.8" stroke="#1F3B73" stroke-width="0.6"/><path d="M492 653.6L485 652.6L488.2 647.6Z" fill="#1F3B73"/>
<path d="M432.4 642.3L437.6 650.7M437.6 642.3L432.4 650.7" stroke="#D41018" stroke-width="2.3" stroke-linecap="butt"/>
<path d="M480.5 641.8L485.7 650.2M485.7 641.8L480.5 650.2" stroke="#D41018" stroke-width="2.3" stroke-linecap="butt"/>
<path d="M488.7 705.3L466 720.6" stroke="#1F3B73" stroke-width="1"/><path d="M457.4 725.8L470.4 722.9L465.2 715.4Z" fill="#1F3B73"/>
<path d="M511.6 706L535 719.3" stroke="#1F3B73" stroke-width="1"/><path d="M545 724.8L536.4 714.6L531.9 722.6Z" fill="#1F3B73"/>
<path d="M397.4 700.6H426.8L426.4 718.5C426 724 422.4 729.6 418.6 729.6H405.8C402 729.6 398.3 724 398 718.5Z" fill="#fff" stroke="#111" stroke-width="1.3" stroke-linejoin="round"/>
<rect x="398.2" y="715.2" width="27.8" height="4" fill="#B8122E"/>
<path d="M401.2 726.2H423.2" stroke="#111" stroke-width="0.7"/>
<path d="M377 734.6L385.5 736L386.3 742L377 743.6Z" fill="#3B9FE4"/>
<path d="M386 737.6L388.2 737.2V741.4L386 741.1Z" fill="#E8483C"/>
<path d="M388 739.3L408 740.2" stroke="#55C7D8" stroke-width="1"/>
<path d="M424 739.2L436 736.6" stroke="#55C7D8" stroke-width="1"/>
<path d="M435.4 735.2L437.6 734.4L438 739L435.8 739Z" fill="#E8483C"/>
<path d="M437.7 733L443.5 731.6L444 730.4L455 730.2L455.4 742.4L444 742.6L437.9 740Z" fill="#A9A9B3"/>
<g transform="translate(417.5 741) scale(1.18) translate(-417.5 -741)">
<path d="M403 742.6C406 738.5 411 738 413.5 738.3C413 733 416.5 730.8 419.5 731C424.5 731.4 425 738 423.5 742C422.5 745.6 419.5 747.4 416.5 747.2C416.2 751 415 755 413.8 757.4L411.8 757C412.6 753.4 413 750 413 747.6C411.5 748.4 409.6 748.2 409.2 747L412.3 745C412 743.2 411.8 742 412 741C409.5 741 406.5 742.4 404.5 744Z" fill="#F0860F"/>
<ellipse cx="418.2" cy="739.4" rx="2.2" ry="5.2" fill="#8A12D0" transform="rotate(8 418.2 739.4)"/></g>
<text x="370" y="767" font-size="11.6" textLength="90" lengthAdjust="spacingAndGlyphs">Electroantenography</text>
<text x="402.7" y="780.9" font-size="11.6" textLength="24.5" lengthAdjust="spacingAndGlyphs">-EAG</text>
<g transform="translate(571.5 705.6) rotate(110) scale(0.8)"><ellipse cx="-3.6" cy="1.5" rx="4.5" ry="1.5" fill="#D8D0C0" opacity="0.75" transform="rotate(-28 -3.6 1.5)"/><ellipse cx="3.6" cy="1.5" rx="4.5" ry="1.5" fill="#D8D0C0" opacity="0.75" transform="rotate(28 3.6 1.5)"/><ellipse cx="0" cy="2.6" rx="2.3" ry="3.6" fill="#C8741C"/><path d="M-2.1 2H2.1M-2.2 3.6H2.2" stroke="#40220C" stroke-width="0.7"/><ellipse cx="0" cy="-2" rx="2.2" ry="2.4" fill="#6A3A18"/><ellipse cx="0" cy="-4.9" rx="1.6" ry="1.2" fill="#B85A1C"/></g>
<g transform="translate(581.5 704) rotate(70) scale(0.8)"><ellipse cx="-3.6" cy="1.5" rx="4.5" ry="1.5" fill="#D8D0C0" opacity="0.75" transform="rotate(-28 -3.6 1.5)"/><ellipse cx="3.6" cy="1.5" rx="4.5" ry="1.5" fill="#D8D0C0" opacity="0.75" transform="rotate(28 3.6 1.5)"/><ellipse cx="0" cy="2.6" rx="2.3" ry="3.6" fill="#C8741C"/><path d="M-2.1 2H2.1M-2.2 3.6H2.2" stroke="#40220C" stroke-width="0.7"/><ellipse cx="0" cy="-2" rx="2.2" ry="2.4" fill="#6A3A18"/><ellipse cx="0" cy="-4.9" rx="1.6" ry="1.2" fill="#B85A1C"/></g>
<g transform="translate(568.5 714) rotate(100) scale(0.7)"><ellipse cx="-3.6" cy="1.5" rx="4.5" ry="1.5" fill="#D8D0C0" opacity="0.75" transform="rotate(-28 -3.6 1.5)"/><ellipse cx="3.6" cy="1.5" rx="4.5" ry="1.5" fill="#D8D0C0" opacity="0.75" transform="rotate(28 3.6 1.5)"/><ellipse cx="0" cy="2.6" rx="2.3" ry="3.6" fill="#C8741C"/><path d="M-2.1 2H2.1M-2.2 3.6H2.2" stroke="#40220C" stroke-width="0.7"/><ellipse cx="0" cy="-2" rx="2.2" ry="2.4" fill="#6A3A18"/><ellipse cx="0" cy="-4.9" rx="1.6" ry="1.2" fill="#B85A1C"/></g>
<g transform="translate(576.5 711) rotate(60) scale(0.7)"><ellipse cx="-3.6" cy="1.5" rx="4.5" ry="1.5" fill="#D8D0C0" opacity="0.75" transform="rotate(-28 -3.6 1.5)"/><ellipse cx="3.6" cy="1.5" rx="4.5" ry="1.5" fill="#D8D0C0" opacity="0.75" transform="rotate(28 3.6 1.5)"/><ellipse cx="0" cy="2.6" rx="2.3" ry="3.6" fill="#C8741C"/><path d="M-2.1 2H2.1M-2.2 3.6H2.2" stroke="#40220C" stroke-width="0.7"/><ellipse cx="0" cy="-2" rx="2.2" ry="2.4" fill="#6A3A18"/><ellipse cx="0" cy="-4.9" rx="1.6" ry="1.2" fill="#B85A1C"/></g>
<g transform="translate(584.6 743.5) rotate(0) scale(1.15)"><ellipse cx="-3.6" cy="1.5" rx="4.5" ry="1.5" fill="#D8D0C0" opacity="0.75" transform="rotate(-28 -3.6 1.5)"/><ellipse cx="3.6" cy="1.5" rx="4.5" ry="1.5" fill="#D8D0C0" opacity="0.75" transform="rotate(28 3.6 1.5)"/><ellipse cx="0" cy="2.6" rx="2.3" ry="3.6" fill="#C8741C"/><path d="M-2.1 2H2.1M-2.2 3.6H2.2" stroke="#40220C" stroke-width="0.7"/><ellipse cx="0" cy="-2" rx="2.2" ry="2.4" fill="#6A3A18"/><ellipse cx="0" cy="-4.9" rx="1.6" ry="1.2" fill="#B85A1C"/></g>
<text x="551.4" y="714.2" font-size="5.4" class="s n" textLength="14" lengthAdjust="spacingAndGlyphs" transform="rotate(-22 551.4 714.2)">CH₃O</text>
<text x="555" y="722.6" font-size="5.4" class="s n" textLength="14" lengthAdjust="spacingAndGlyphs" transform="rotate(-22 555 722.6)">CH₃O</text>
<path d="M585.5 703.5L592.5 702" stroke="#333" stroke-width="0.4"/>
<path d="M583.4 735.6C579 735.8 574.6 733.5 574.3 727.6" fill="none" stroke="#C0141C" stroke-width="1.1" stroke-dasharray="1.3 1.1"/>
<path d="M574.5 723.4L572.5 727.6L576.8 727.2Z" fill="#C0141C"/>
<rect x="598.1" y="699.3" width="54.9" height="53.1" fill="#fff" stroke="#E0282E" stroke-width="0.7" stroke-dasharray="1.3 1.1"/>
<path d="M625.5 699.3V752.4M598.1 725.4H653" stroke="#333" stroke-width="0.45" stroke-dasharray="3 0.8 0.8 0.8"/>
<path d="M607.5 700C612 714.6 638.5 714.6 643.5 700M607.5 751.6C612 737.2 638.5 737.2 643.5 751.6M598.8 706C614 711 614 739.5 598.8 745.2M652.4 706C637.4 711 637.4 739.5 652.4 745.2" fill="none" stroke="#A88AD8" stroke-width="0.55"/>
<text x="599.2" y="708.6" font-size="6.8" class="s n" fill="#E0282E" textLength="9.6" lengthAdjust="spacingAndGlyphs">ME</text>
<text x="599.2" y="747.8" font-size="6.8" class="s n" fill="#E0282E" textLength="9.6" lengthAdjust="spacingAndGlyphs">ME</text>
<text x="643" y="707.6" font-size="6.8" class="s n" fill="#A8860C" textLength="9.4" lengthAdjust="spacingAndGlyphs">CK</text>
<text x="643" y="747.4" font-size="6.8" class="s n" fill="#A8860C" textLength="9.4" lengthAdjust="spacingAndGlyphs">CK</text>
<g transform="translate(611.8 713.2) rotate(-50) scale(0.42)"><ellipse cx="-3.6" cy="1.5" rx="4.5" ry="1.5" fill="#D8D0C0" opacity="0.75" transform="rotate(-28 -3.6 1.5)"/><ellipse cx="3.6" cy="1.5" rx="4.5" ry="1.5" fill="#D8D0C0" opacity="0.75" transform="rotate(28 3.6 1.5)"/><ellipse cx="0" cy="2.6" rx="2.3" ry="3.6" fill="#C8741C"/><path d="M-2.1 2H2.1M-2.2 3.6H2.2" stroke="#40220C" stroke-width="0.7"/><ellipse cx="0" cy="-2" rx="2.2" ry="2.4" fill="#6A3A18"/><ellipse cx="0" cy="-4.9" rx="1.6" ry="1.2" fill="#B85A1C"/></g>
<g transform="translate(618.6 719.6) rotate(-40) scale(0.42)"><ellipse cx="-3.6" cy="1.5" rx="4.5" ry="1.5" fill="#D8D0C0" opacity="0.75" transform="rotate(-28 -3.6 1.5)"/><ellipse cx="3.6" cy="1.5" rx="4.5" ry="1.5" fill="#D8D0C0" opacity="0.75" transform="rotate(28 3.6 1.5)"/><ellipse cx="0" cy="2.6" rx="2.3" ry="3.6" fill="#C8741C"/><path d="M-2.1 2H2.1M-2.2 3.6H2.2" stroke="#40220C" stroke-width="0.7"/><ellipse cx="0" cy="-2" rx="2.2" ry="2.4" fill="#6A3A18"/><ellipse cx="0" cy="-4.9" rx="1.6" ry="1.2" fill="#B85A1C"/></g>
<g transform="translate(614.4 726.4) rotate(20) scale(0.42)"><ellipse cx="-3.6" cy="1.5" rx="4.5" ry="1.5" fill="#D8D0C0" opacity="0.75" transform="rotate(-28 -3.6 1.5)"/><ellipse cx="3.6" cy="1.5" rx="4.5" ry="1.5" fill="#D8D0C0" opacity="0.75" transform="rotate(28 3.6 1.5)"/><ellipse cx="0" cy="2.6" rx="2.3" ry="3.6" fill="#C8741C"/><path d="M-2.1 2H2.1M-2.2 3.6H2.2" stroke="#40220C" stroke-width="0.7"/><ellipse cx="0" cy="-2" rx="2.2" ry="2.4" fill="#6A3A18"/><ellipse cx="0" cy="-4.9" rx="1.6" ry="1.2" fill="#B85A1C"/></g>
<g transform="translate(609.6 738.4) rotate(30) scale(0.42)"><ellipse cx="-3.6" cy="1.5" rx="4.5" ry="1.5" fill="#D8D0C0" opacity="0.75" transform="rotate(-28 -3.6 1.5)"/><ellipse cx="3.6" cy="1.5" rx="4.5" ry="1.5" fill="#D8D0C0" opacity="0.75" transform="rotate(28 3.6 1.5)"/><ellipse cx="0" cy="2.6" rx="2.3" ry="3.6" fill="#C8741C"/><path d="M-2.1 2H2.1M-2.2 3.6H2.2" stroke="#40220C" stroke-width="0.7"/><ellipse cx="0" cy="-2" rx="2.2" ry="2.4" fill="#6A3A18"/><ellipse cx="0" cy="-4.9" rx="1.6" ry="1.2" fill="#B85A1C"/></g>
<g transform="translate(615.6 736) rotate(40) scale(0.42)"><ellipse cx="-3.6" cy="1.5" rx="4.5" ry="1.5" fill="#D8D0C0" opacity="0.75" transform="rotate(-28 -3.6 1.5)"/><ellipse cx="3.6" cy="1.5" rx="4.5" ry="1.5" fill="#D8D0C0" opacity="0.75" transform="rotate(28 3.6 1.5)"/><ellipse cx="0" cy="2.6" rx="2.3" ry="3.6" fill="#C8741C"/><path d="M-2.1 2H2.1M-2.2 3.6H2.2" stroke="#40220C" stroke-width="0.7"/><ellipse cx="0" cy="-2" rx="2.2" ry="2.4" fill="#6A3A18"/><ellipse cx="0" cy="-4.9" rx="1.6" ry="1.2" fill="#B85A1C"/></g>
<text x="570.5" y="766.3" font-size="11.6" textLength="55.4" lengthAdjust="spacingAndGlyphs">Behavior test</text>
<text x="536" y="780.9" font-size="11.6" textLength="123.8" lengthAdjust="spacingAndGlyphs">-Four-quadrant olfactometer</text>
</g>
<g id="panel_f">
<text x="326.9" y="804" font-size="18.6" textLength="8" lengthAdjust="spacingAndGlyphs">f</text>
<path d="M335.1 819.5V937.7H489.8" stroke="#000" stroke-width="1.3" fill="none"/>
<text x="329.9" y="940.45" font-size="7.9" class="s" text-anchor="end" textLength="11.7" lengthAdjust="spacingAndGlyphs" stroke="#000" stroke-width="0.2">0.0</text>
<text x="329.9" y="916.81" font-size="7.9" class="s" text-anchor="end" textLength="11.7" lengthAdjust="spacingAndGlyphs" stroke="#000" stroke-width="0.2">0.5</text>
<text x="329.9" y="893.17" font-size="7.9" class="s" text-anchor="end" textLength="11.7" lengthAdjust="spacingAndGlyphs" stroke="#000" stroke-width="0.2">1.0</text>
<text x="329.9" y="869.53" font-size="7.9" class="s" text-anchor="end" textLength="11.7" lengthAdjust="spacingAndGlyphs" stroke="#000" stroke-width="0.2">1.5</text>
<text x="329.9" y="845.89" font-size="7.9" class="s" text-anchor="end" textLength="11.7" lengthAdjust="spacingAndGlyphs" stroke="#000" stroke-width="0.2">2.0</text>
<text x="329.9" y="822.25" font-size="7.9" class="s" text-anchor="end" textLength="11.7" lengthAdjust="spacingAndGlyphs" stroke="#000" stroke-width="0.2">2.5</text>
<path d="M330.5 937.7H335.1M330.5 914.06H335.1M330.5 890.42H335.1M330.5 866.78H335.1M330.5 843.14H335.1M330.5 819.5H335.1M345.9 937.7V941.9M371.6 937.7V941.9M397.8 937.7V941.9M424.1 937.7V941.9M451 937.7V941.9M477.3 937.7V941.9" stroke="#000" stroke-width="1"/>
<text x="345.9" y="951.9" font-size="7.3" class="s" text-anchor="middle" textLength="14.7" lengthAdjust="spacingAndGlyphs" stroke="#000" stroke-width="0.2">0.01</text>
<text x="371.6" y="951.9" font-size="7.3" class="s" text-anchor="middle" textLength="10" lengthAdjust="spacingAndGlyphs" stroke="#000" stroke-width="0.2">0.1</text>
<text x="397.8" y="951.9" font-size="7.3" class="s" text-anchor="middle" textLength="3.8" lengthAdjust="spacingAndGlyphs" stroke="#000" stroke-width="0.2">1</text>
<text x="424.1" y="951.9" font-size="7.3" class="s" text-anchor="middle" textLength="7.8" lengthAdjust="spacingAndGlyphs" stroke="#000" stroke-width="0.2">10</text>
<text x="451" y="951.9" font-size="7.3" class="s" text-anchor="middle" textLength="11.8" lengthAdjust="spacingAndGlyphs" stroke="#000" stroke-width="0.2">100</text>
<text x="477.3" y="951.9" font-size="7.3" class="s" text-anchor="middle" textLength="15.8" lengthAdjust="spacingAndGlyphs" stroke="#000" stroke-width="0.2">1000</text>
<text x="411.6" y="964.2" font-size="7.9" class="s" text-anchor="middle" textLength="37.5" lengthAdjust="spacingAndGlyphs" stroke="#000" stroke-width="0.2">dose (μg)</text>
<text x="313.8" y="882" font-size="8" class="s" text-anchor="middle" textLength="85.5" lengthAdjust="spacingAndGlyphs" transform="rotate(-90 313.8 882)" stroke="#000" stroke-width="0.2">EAG response（mV）</text>
<rect x="354.7" y="813.2" width="4.2" height="6.6" fill="#AC6016" stroke="#111" stroke-width="1.2"/>
<text x="364.5" y="819.7" font-size="12" textLength="14.8" lengthAdjust="spacingAndGlyphs" stroke="#000" stroke-width="0.15">WT</text>
<rect x="410.6" y="813.2" width="4.2" height="6.6" fill="#0E979C" stroke="#111" stroke-width="1.2"/>
<text x="416.8" y="819.7" font-size="12" font-style="italic" textLength="66.3" lengthAdjust="spacingAndGlyphs" stroke="#000" stroke-width="0.15">BdorOR88a-v12</text>
<text x="483.3" y="815.8" font-size="5.6" font-style="italic" textLength="6.4" lengthAdjust="spacingAndGlyphs">-/-</text>
<rect x="337.45" y="936.52" width="6.7" height="1.18" fill="#AC6016" stroke="#111" stroke-width="0.8"/>
<path d="M340.8 936.05V936.99M339 936.05H342.6M339 936.99H342.6" stroke="#000" stroke-width="0.8" fill="none"/>
<circle cx="340.65" cy="927.84" r="1.05" fill="#000" />
<circle cx="340.99" cy="935.88" r="1.05" fill="#000" />
<circle cx="342.16" cy="936.83" r="1.05" fill="#000" />
<circle cx="340.69" cy="936.35" r="1.05" fill="#000" />
<circle cx="340.83" cy="937.3" r="1.05" fill="#000" />
<circle cx="341.08" cy="936.83" r="1.05" fill="#000" />
<rect x="347.65" y="937.13" width="6.7" height="0.57" fill="#0E979C" stroke="#111" stroke-width="0.8"/>
<path d="M351 936.9V937.37M349.2 936.9H352.8M349.2 937.37H352.8" stroke="#000" stroke-width="0.8" fill="none"/>
<circle cx="349.99" cy="936.35" r="1.05" fill="#000" />
<circle cx="351.04" cy="936.83" r="1.05" fill="#000" />
<circle cx="351.42" cy="937.3" r="1.05" fill="#000" />
<circle cx="351.94" cy="935.88" r="1.05" fill="#000" />
<circle cx="349.7" cy="936.83" r="1.05" fill="#000" />
<rect x="363.15" y="936.28" width="6.7" height="1.42" fill="#AC6016" stroke="#111" stroke-width="0.8"/>
<path d="M366.5 935.81V936.75M364.7 935.81H368.3M364.7 936.75H368.3" stroke="#000" stroke-width="0.8" fill="none"/>
<circle cx="365.87" cy="934.46" r="1.05" fill="#000" />
<circle cx="365.19" cy="935.88" r="1.05" fill="#000" />
<circle cx="367.49" cy="936.35" r="1.05" fill="#000" />
<circle cx="367.12" cy="935.41" r="1.05" fill="#000" />
<circle cx="365.03" cy="936.83" r="1.05" fill="#000" />
<circle cx="368.04" cy="934.94" r="1.05" fill="#000" />
<rect x="373.35" y="936.28" width="6.7" height="1.42" fill="#0E979C" stroke="#111" stroke-width="0.8"/>
<path d="M376.7 935.81V936.75M374.9 935.81H378.5M374.9 936.75H378.5" stroke="#000" stroke-width="0.8" fill="none"/>
<circle cx="378.19" cy="933.99" r="1.05" fill="#000" />
<circle cx="377.19" cy="936.35" r="1.05" fill="#000" />
<circle cx="377.07" cy="935.88" r="1.05" fill="#000" />
<circle cx="375.6" cy="936.83" r="1.05" fill="#000" />
<circle cx="375.15" cy="934.94" r="1.05" fill="#000" />
<circle cx="376.79" cy="937.3" r="1.05" fill="#000" />
<rect x="389.35" y="933.44" width="6.7" height="4.26" fill="#AC6016" stroke="#111" stroke-width="0.8"/>
<path d="M392.7 932.74V934.15M390.9 932.74H394.5M390.9 934.15H394.5" stroke="#000" stroke-width="0.8" fill="none"/>
<circle cx="391.29" cy="931.63" r="1.05" fill="#000" />
<circle cx="391.71" cy="933.52" r="1.05" fill="#000" />
<circle cx="391.87" cy="932.57" r="1.05" fill="#000" />
<circle cx="391.2" cy="934.94" r="1.05" fill="#000" />
<circle cx="392.58" cy="931.15" r="1.05" fill="#000" />
<circle cx="392.51" cy="933.99" r="1.05" fill="#000" />
<circle cx="393.8" cy="933.04" r="1.05" fill="#000" />
<rect x="399.55" y="933.92" width="6.7" height="3.78" fill="#0E979C" stroke="#111" stroke-width="0.8"/>
<path d="M402.9 932.5V935.34M401.1 932.5H404.7M401.1 935.34H404.7" stroke="#000" stroke-width="0.8" fill="none"/>
<circle cx="402.96" cy="925.48" r="1.05" fill="#000" />
<circle cx="403.35" cy="928.79" r="1.05" fill="#000" />
<circle cx="402.9" cy="931.63" r="1.05" fill="#000" />
<circle cx="403.42" cy="934.94" r="1.05" fill="#000" />
<circle cx="402.76" cy="935.88" r="1.05" fill="#000" />
<circle cx="402.19" cy="933.52" r="1.05" fill="#000" />
<circle cx="404.49" cy="936.35" r="1.05" fill="#000" />
<circle cx="404.49" cy="930.21" r="1.05" fill="#000" />
<circle cx="403.99" cy="937.3" r="1.05" fill="#000" />
<circle cx="403.56" cy="932.57" r="1.05" fill="#000" />
<rect x="415.65" y="921.62" width="6.7" height="16.08" fill="#AC6016" stroke="#111" stroke-width="0.8"/>
<path d="M419 920.21V923.04M417.2 920.21H420.8M417.2 923.04H420.8" stroke="#000" stroke-width="0.8" fill="none"/>
<circle cx="418.41" cy="911.3" r="1.05" fill="#000" />
<circle cx="418.13" cy="918.39" r="1.05" fill="#000" />
<circle cx="418.32" cy="920.28" r="1.05" fill="#000" />
<circle cx="417.62" cy="923.12" r="1.05" fill="#000" />
<circle cx="419.85" cy="924.06" r="1.05" fill="#000" />
<circle cx="418.68" cy="921.7" r="1.05" fill="#000" />
<circle cx="420.11" cy="926.9" r="1.05" fill="#000" />
<circle cx="418.64" cy="919.33" r="1.05" fill="#000" />
<circle cx="420.47" cy="922.64" r="1.05" fill="#000" />
<rect x="425.85" y="919.26" width="6.7" height="18.44" fill="#0E979C" stroke="#111" stroke-width="0.8"/>
<path d="M429.2 916.42V922.1M427.4 916.42H431M427.4 922.1H431" stroke="#000" stroke-width="0.8" fill="none"/>
<circle cx="430.31" cy="895.69" r="1.05" fill="#000" />
<circle cx="427.6" cy="901.84" r="1.05" fill="#000" />
<circle cx="428.27" cy="908.93" r="1.05" fill="#000" />
<circle cx="430.51" cy="913.66" r="1.05" fill="#000" />
<circle cx="429.1" cy="916.02" r="1.05" fill="#000" />
<circle cx="430.74" cy="919.33" r="1.05" fill="#000" />
<circle cx="428.87" cy="923.12" r="1.05" fill="#000" />
<circle cx="427.83" cy="927.84" r="1.05" fill="#000" />
<circle cx="429.61" cy="931.63" r="1.05" fill="#000" />
<circle cx="430.09" cy="934.94" r="1.05" fill="#000" />
<circle cx="428.46" cy="936.35" r="1.05" fill="#000" />
<circle cx="427.88" cy="917.44" r="1.05" fill="#000" />
<rect x="442.55" y="904.13" width="6.7" height="33.57" fill="#AC6016" stroke="#111" stroke-width="0.8"/>
<path d="M445.9 902.24V906.02M444.1 902.24H447.7M444.1 906.02H447.7" stroke="#000" stroke-width="0.8" fill="none"/>
<circle cx="445.36" cy="885.29" r="1.05" fill="#000" />
<circle cx="447.39" cy="892.38" r="1.05" fill="#000" />
<circle cx="446.73" cy="897.11" r="1.05" fill="#000" />
<circle cx="444.68" cy="901.84" r="1.05" fill="#000" />
<circle cx="445.09" cy="904.2" r="1.05" fill="#000" />
<circle cx="444.62" cy="906.1" r="1.05" fill="#000" />
<circle cx="444.49" cy="907.99" r="1.05" fill="#000" />
<circle cx="446.85" cy="909.88" r="1.05" fill="#000" />
<circle cx="444.87" cy="912.71" r="1.05" fill="#000" />
<circle cx="446.09" cy="914.61" r="1.05" fill="#000" />
<circle cx="445.73" cy="903.26" r="1.05" fill="#000" />
<rect x="452.75" y="901.77" width="6.7" height="35.93" fill="#0E979C" stroke="#111" stroke-width="0.8"/>
<path d="M456.1 897.51V906.02M454.3 897.51H457.9M454.3 906.02H457.9" stroke="#000" stroke-width="0.8" fill="none"/>
<circle cx="455.11" cy="854.56" r="1.05" fill="#000" />
<circle cx="456.84" cy="874.42" r="1.05" fill="#000" />
<circle cx="454.92" cy="881.51" r="1.05" fill="#000" />
<circle cx="456.56" cy="894.75" r="1.05" fill="#000" />
<circle cx="454.87" cy="899.48" r="1.05" fill="#000" />
<circle cx="455.85" cy="904.2" r="1.05" fill="#000" />
<circle cx="455.18" cy="908.93" r="1.05" fill="#000" />
<circle cx="455.36" cy="916.02" r="1.05" fill="#000" />
<circle cx="457.61" cy="923.12" r="1.05" fill="#000" />
<circle cx="457.07" cy="930.21" r="1.05" fill="#000" />
<circle cx="455.47" cy="933.52" r="1.05" fill="#000" />
<circle cx="457.33" cy="901.84" r="1.05" fill="#000" />
<rect x="468.85" y="895.15" width="6.7" height="42.55" fill="#AC6016" stroke="#111" stroke-width="0.8"/>
<path d="M472.2 891.84V898.46M470.4 891.84H474M470.4 898.46H474" stroke="#000" stroke-width="0.8" fill="none"/>
<circle cx="471.27" cy="871.11" r="1.05" fill="#000" />
<circle cx="471.86" cy="877.25" r="1.05" fill="#000" />
<circle cx="473.33" cy="890.02" r="1.05" fill="#000" />
<circle cx="472.65" cy="893.8" r="1.05" fill="#000" />
<circle cx="470.92" cy="897.11" r="1.05" fill="#000" />
<circle cx="473.77" cy="899.48" r="1.05" fill="#000" />
<circle cx="471.28" cy="904.2" r="1.05" fill="#000" />
<circle cx="471.43" cy="908.93" r="1.05" fill="#000" />
<circle cx="473.07" cy="916.02" r="1.05" fill="#000" />
<circle cx="471.65" cy="895.69" r="1.05" fill="#000" />
<rect x="479.05" y="897.04" width="6.7" height="40.66" fill="#0E979C" stroke="#111" stroke-width="0.8"/>
<path d="M482.4 891.84V902.24M480.6 891.84H484.2M480.6 902.24H484.2" stroke="#000" stroke-width="0.8" fill="none"/>
<circle cx="481.75" cy="847.47" r="1.05" fill="#000" />
<circle cx="481.03" cy="870.16" r="1.05" fill="#000" />
<circle cx="481.09" cy="875.84" r="1.05" fill="#000" />
<circle cx="482.66" cy="885.29" r="1.05" fill="#000" />
<circle cx="481.58" cy="892.38" r="1.05" fill="#000" />
<circle cx="482.72" cy="895.69" r="1.05" fill="#000" />
<circle cx="481.99" cy="899.48" r="1.05" fill="#000" />
<circle cx="482.25" cy="906.57" r="1.05" fill="#000" />
<circle cx="483.87" cy="913.66" r="1.05" fill="#000" />
<circle cx="482.35" cy="920.75" r="1.05" fill="#000" />
<circle cx="482.64" cy="931.63" r="1.05" fill="#000" />
<circle cx="483.57" cy="934.94" r="1.05" fill="#000" />
<path d="M340.6 915.7V913.5H351.1V915.7" stroke="#000" stroke-width="1" fill="none"/>
<text x="345.85" y="908.2" font-size="8.2" class="s n" text-anchor="middle" textLength="8" lengthAdjust="spacingAndGlyphs">ns</text>
<path d="M366.9 913.6V911.4H377.4V913.6" stroke="#000" stroke-width="1" fill="none"/>
<text x="372.15" y="905.9" font-size="8.2" class="s n" text-anchor="middle" textLength="8" lengthAdjust="spacingAndGlyphs">ns</text>
<path d="M392.6 906.9V904.7H404.3V906.9" stroke="#000" stroke-width="1" fill="none"/>
<text x="398.45" y="899.2" font-size="8.2" class="s n" text-anchor="middle" textLength="8" lengthAdjust="spacingAndGlyphs">ns</text>
<path d="M418.3 880V877.8H430V880" stroke="#000" stroke-width="1" fill="none"/>
<text x="424.15" y="872.3" font-size="8.2" class="s n" text-anchor="middle" textLength="8" lengthAdjust="spacingAndGlyphs">ns</text>
<path d="M445.7 853.8V851.6H456.8V853.8" stroke="#000" stroke-width="1" fill="none"/>
<text x="451.25" y="845.5" font-size="8.2" class="s n" text-anchor="middle" textLength="8" lengthAdjust="spacingAndGlyphs">ns</text>
<path d="M472.9 845V842.8H484.6V845" stroke="#000" stroke-width="1" fill="none"/>
<text x="478.75" y="837.3" font-size="8.2" class="s n" text-anchor="middle" textLength="8" lengthAdjust="spacingAndGlyphs">ns</text>
</g>
<g id="panel_g">
<text x="510" y="798.7" font-size="19.5" textLength="10" lengthAdjust="spacingAndGlyphs">g</text>
<path d="M530.7 824.9V961.5M530.7 921.6H677.9" stroke="#000" stroke-width="1.25" fill="none"/>
<text x="525.2" y="828.1" font-size="9.4" text-anchor="end" textLength="9.3" lengthAdjust="spacingAndGlyphs" stroke="#000" stroke-width="0.3">1.2</text>
<text x="525.2" y="852.3" font-size="9.4" text-anchor="end" textLength="9.3" lengthAdjust="spacingAndGlyphs" stroke="#000" stroke-width="0.3">0.9</text>
<text x="525.2" y="876.5" font-size="9.4" text-anchor="end" textLength="9.3" lengthAdjust="spacingAndGlyphs" stroke="#000" stroke-width="0.3">0.6</text>
<text x="525.2" y="900.7" font-size="9.4" text-anchor="end" textLength="9.3" lengthAdjust="spacingAndGlyphs" stroke="#000" stroke-width="0.3">0.3</text>
<text x="525.2" y="924.9" font-size="9.4" text-anchor="end" textLength="9.3" lengthAdjust="spacingAndGlyphs" stroke="#000" stroke-width="0.3">0.0</text>
<text x="525.2" y="949.1" font-size="9.4" text-anchor="end" textLength="11.9" lengthAdjust="spacingAndGlyphs" stroke="#000" stroke-width="0.3">-0.3</text>
<path d="M526.3 824.9H530.7M526.3 849.1H530.7M526.3 873.3H530.7M526.3 897.5H530.7M526.3 921.7H530.7M526.3 945.9H530.7M545.36 921.6V925.8M560.02 921.6V925.8M574.68 921.6V925.8M589.34 921.6V925.8M604 921.6V925.8M618.66 921.6V925.8M633.32 921.6V925.8M647.98 921.6V925.8M662.64 921.6V925.8M677.3 921.6V925.8" stroke="#000" stroke-width="1"/>
<text x="603.7" y="939.3" font-size="9.6" class="s" text-anchor="middle" textLength="4.2" lengthAdjust="spacingAndGlyphs" stroke="#000" stroke-width="0.3">5</text>
<text x="676.3" y="939.3" font-size="9.6" class="s" text-anchor="middle" textLength="8.2" lengthAdjust="spacingAndGlyphs" stroke="#000" stroke-width="0.3">10</text>
<text x="603.9" y="955.9" font-size="10.2" class="s n" text-anchor="middle" textLength="37.4" lengthAdjust="spacingAndGlyphs" stroke="#000" stroke-width="0.3">Time(min)</text>
<text x="509" y="893.3" font-size="9.2" text-anchor="middle" textLength="78" lengthAdjust="spacingAndGlyphs" transform="rotate(-90 509 893.3)" stroke="#000" stroke-width="0.2">Attraction Index</text>
<line x1="542.3" y1="815.8" x2="553.7" y2="815.8" stroke="#AA5E14" stroke-width="0.9" />
<rect x="545.8" y="813.7" width="4.4" height="4.2" fill="#AA5E14"/>
<text x="556.7" y="819" font-size="12" textLength="15.7" lengthAdjust="spacingAndGlyphs" stroke="#000" stroke-width="0.15">WT</text>
<line x1="599.2" y1="815.8" x2="610.6" y2="815.8" stroke="#10989A" stroke-width="0.9" />
<circle cx="604.6" cy="815.8" r="2.1" fill="#10989A" />
<text x="613" y="819" font-size="12" font-style="italic" textLength="64.9" lengthAdjust="spacingAndGlyphs" stroke="#000" stroke-width="0.15">BdorOR88a-v12</text>
<text x="678.2" y="815" font-size="5.6" font-style="italic" textLength="6.4" lengthAdjust="spacingAndGlyphs">-/-</text>
<path d="M530.7 921.64L545.36 883.21L560.02 859.58L574.68 854.74L589.34 855.59L604 854.17L618.66 858.44L633.32 852.18L647.98 853.32L662.64 855.59L677.3 857.02" fill="none" stroke="#AA5E14" stroke-width="0.9"/>
<path d="M545.36 880.64V885.77M543.56 880.64H547.16M543.56 885.77H547.16M560.02 857.02V862.14M558.22 857.02H561.82M558.22 862.14H561.82M574.68 852.18V857.3M572.88 852.18H576.48M572.88 857.3H576.48M589.34 852.75V858.44M587.54 852.75H591.14M587.54 858.44H591.14M604 851.89V856.45M602.2 851.89H605.8M602.2 856.45H605.8M618.66 856.73V860.15M616.86 856.73H620.46M616.86 860.15H620.46M633.32 850.47V853.89M631.52 850.47H635.12M631.52 853.89H635.12M647.98 851.61V855.03M646.18 851.61H649.78M646.18 855.03H649.78M662.64 854.17V857.02M660.84 854.17H664.44M660.84 857.02H664.44M677.3 855.88V858.16M675.5 855.88H679.1M675.5 858.16H679.1" stroke="#AA5E14" stroke-width="0.7" fill="none"/>
<rect x="529.45" y="920.39" width="2.5" height="2.5" fill="#AA5E14"/>
<rect x="544.11" y="881.96" width="2.5" height="2.5" fill="#AA5E14"/>
<rect x="558.77" y="858.33" width="2.5" height="2.5" fill="#AA5E14"/>
<rect x="573.43" y="853.49" width="2.5" height="2.5" fill="#AA5E14"/>
<rect x="588.09" y="854.34" width="2.5" height="2.5" fill="#AA5E14"/>
<rect x="602.75" y="852.92" width="2.5" height="2.5" fill="#AA5E14"/>
<rect x="617.41" y="857.19" width="2.5" height="2.5" fill="#AA5E14"/>
<rect x="632.07" y="850.93" width="2.5" height="2.5" fill="#AA5E14"/>
<rect x="646.73" y="852.07" width="2.5" height="2.5" fill="#AA5E14"/>
<rect x="661.39" y="854.34" width="2.5" height="2.5" fill="#AA5E14"/>
<rect x="676.05" y="855.77" width="2.5" height="2.5" fill="#AA5E14"/>
<path d="M530.7 933.02L545.36 911.67L560.02 885.2L574.68 881.78L589.34 875.52L604 876.66L618.66 879.79L633.32 893.17L647.98 870.97L662.64 890.32L677.3 886.91" fill="none" stroke="#10989A" stroke-width="0.9"/>
<path d="M530.7 929.61V936.44M528.9 929.61H532.5M528.9 936.44H532.5M545.36 905.41V917.93M543.56 905.41H547.16M543.56 917.93H547.16M560.02 882.64V887.76M558.22 882.64H561.82M558.22 887.76H561.82M574.68 879.51V884.06M572.88 879.51H576.48M572.88 884.06H576.48M589.34 872.39V878.65M587.54 872.39H591.14M587.54 878.65H591.14M604 873.24V880.08M602.2 873.24H605.8M602.2 880.08H605.8M618.66 876.94V882.64M616.86 876.94H620.46M616.86 882.64H620.46M633.32 884.63V901.71M631.52 884.63H635.12M631.52 901.71H635.12M647.98 861.86V880.08M646.18 861.86H649.78M646.18 880.08H649.78M662.64 887.76V892.88M660.84 887.76H664.44M660.84 892.88H664.44M677.3 882.35V891.46M675.5 882.35H679.1M675.5 891.46H679.1" stroke="#10989A" stroke-width="0.7" fill="none"/>
<circle cx="530.7" cy="933.02" r="1.4" fill="#10989A" />
<circle cx="545.36" cy="911.67" r="1.4" fill="#10989A" />
<circle cx="560.02" cy="885.2" r="1.4" fill="#10989A" />
<circle cx="574.68" cy="881.78" r="1.4" fill="#10989A" />
<circle cx="589.34" cy="875.52" r="1.4" fill="#10989A" />
<circle cx="604" cy="876.66" r="1.4" fill="#10989A" />
<circle cx="618.66" cy="879.79" r="1.4" fill="#10989A" />
<circle cx="633.32" cy="893.17" r="1.4" fill="#10989A" />
<circle cx="647.98" cy="870.97" r="1.4" fill="#10989A" />
<circle cx="662.64" cy="890.32" r="1.4" fill="#10989A" />
<circle cx="677.3" cy="886.91" r="1.4" fill="#10989A" />
<text x="545.36" y="876.47" font-size="8" class="s" text-anchor="middle" textLength="5.4" lengthAdjust="spacingAndGlyphs">**</text>
<text x="560.02" y="852.85" font-size="8" class="s" text-anchor="middle" textLength="5.4" lengthAdjust="spacingAndGlyphs">**</text>
<text x="574.68" y="845.73" font-size="8" class="s" text-anchor="middle" textLength="8.1" lengthAdjust="spacingAndGlyphs">***</text>
<text x="589.34" y="852.85" font-size="8" class="s" text-anchor="middle" textLength="5.4" lengthAdjust="spacingAndGlyphs">**</text>
<text x="604" y="845.73" font-size="8" class="s" text-anchor="middle" textLength="5.4" lengthAdjust="spacingAndGlyphs">**</text>
<text x="618.66" y="852.85" font-size="8" class="s" text-anchor="middle" textLength="8.1" lengthAdjust="spacingAndGlyphs">***</text>
<text x="633.32" y="845.73" font-size="8" class="s" text-anchor="middle" textLength="5.4" lengthAdjust="spacingAndGlyphs">**</text>
<text x="647.98" y="847.83" font-size="8.2" class="s n" text-anchor="middle" textLength="8" lengthAdjust="spacingAndGlyphs">ns</text>
<text x="662.64" y="845.73" font-size="8" class="s" text-anchor="middle" textLength="10.8" lengthAdjust="spacingAndGlyphs">****</text>
<text x="677.3" y="852.85" font-size="8" class="s" text-anchor="middle" textLength="5.4" lengthAdjust="spacingAndGlyphs">**</text>
</g>
</svg>
</body></html>
